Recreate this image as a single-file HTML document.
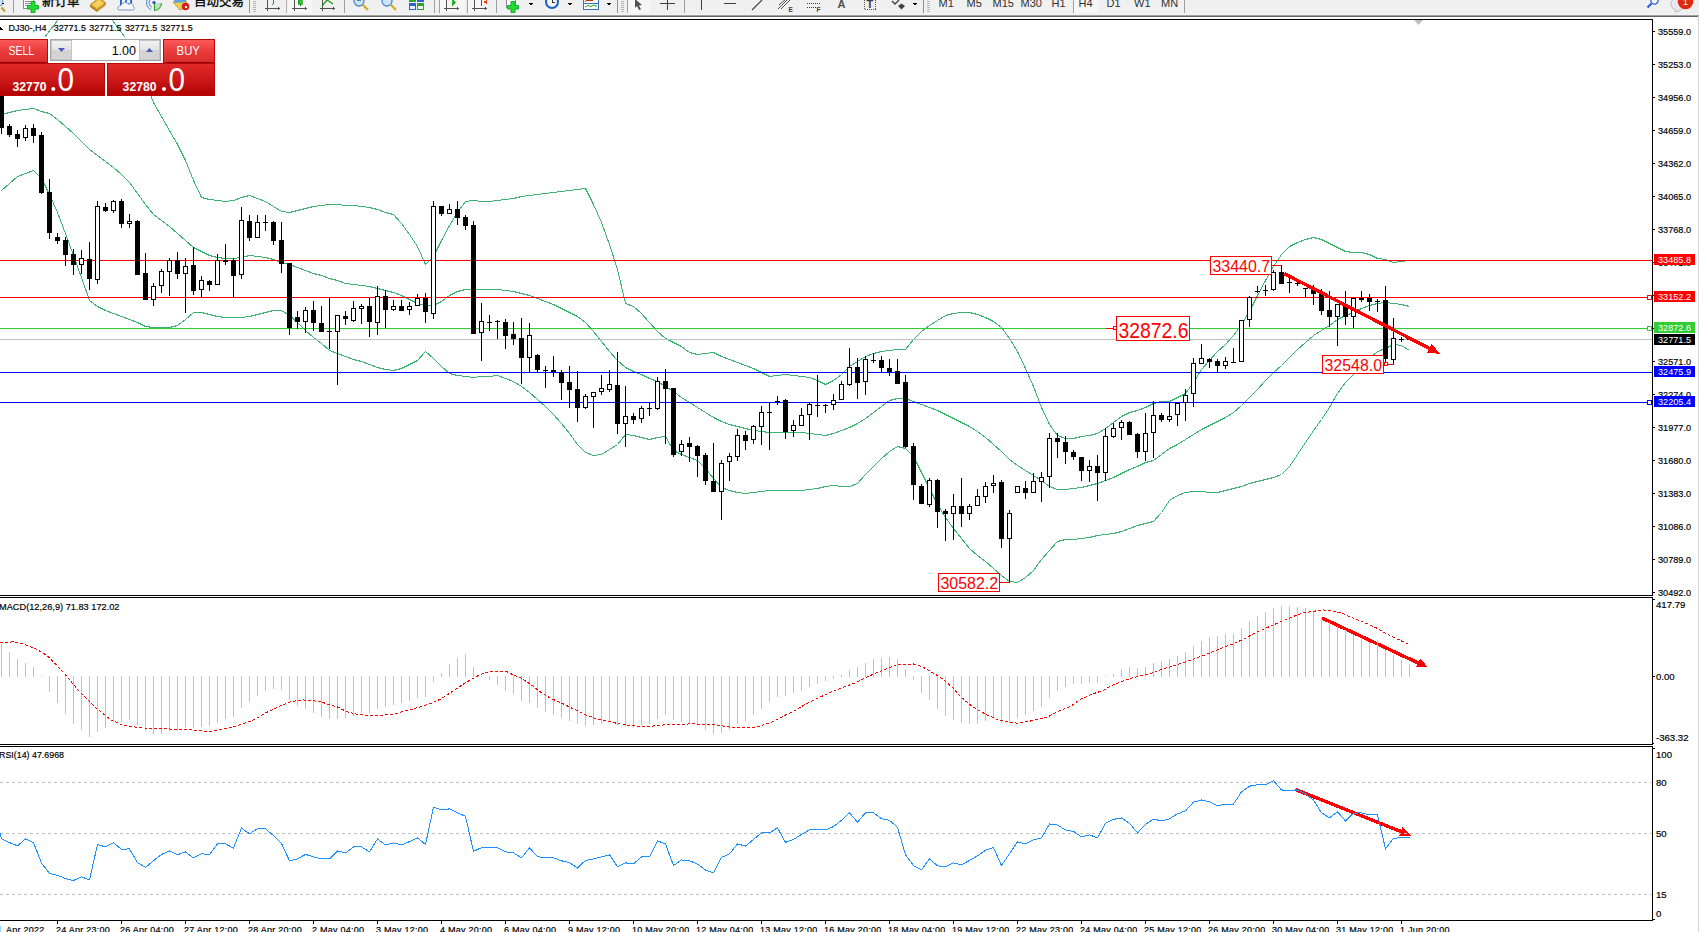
<!DOCTYPE html>
<html><head><meta charset="utf-8"><style>
html,body{margin:0;padding:0;background:#fff;}
body{width:1699px;height:932px;overflow:hidden;position:relative;font-family:"Liberation Sans","Noto Sans CJK SC",sans-serif;}
svg{position:absolute;left:0;top:0;}
svg text{font-family:"Liberation Sans","Noto Sans CJK SC",sans-serif;}
svg text.k{stroke:#000;stroke-width:0.18px;}
#pn div{position:absolute;box-sizing:border-box;}
.btn{background:linear-gradient(#f85454,#e23434 50%,#d42828);border:1px solid #b00000;}
.btn span{position:absolute;top:4px;color:#fff;font-size:13px;line-height:14px;}
.uline{height:1px;background:#8a0000;}
.spin{border:1px solid #a0a0a8;background:#fff;}
.sb{position:absolute;top:1px;width:20px;height:18px;background:linear-gradient(#f0f0f0,#e4e4e4 45%,#d0d0d0 55%,#d4d4d4);border:1px solid #c8c8c8;}
.sv{position:absolute;left:22px;top:2px;width:64px;text-align:right;font-size:12px;line-height:16px;color:#000;}
.dn,.up{position:absolute;left:6px;width:0;height:0;border-left:3.5px solid transparent;border-right:3.5px solid transparent;}
.dn{top:7px;border-top:4px solid #4a5ab8;}
.up{top:6px;border-bottom:4px solid #4a5ab8;}
.px{height:33px;background:linear-gradient(#e02a2a,#c81414 50%,#b40404);color:#fff;}
.px b{position:absolute;left:12px;top:15px;font-size:12.5px;font-weight:bold;line-height:14px;}
.px em{position:absolute;left:50px;top:12px;font-style:normal;font-weight:bold;font-size:16px;line-height:16px;}
.px s{position:absolute;left:57px;top:2px;text-decoration:none;font-family:"DejaVu Sans","Liberation Sans",sans-serif;font-size:31px;line-height:31px;font-weight:normal;}
</style></head><body>
<svg width="1699" height="932" viewBox="0 0 1699 932" shape-rendering="crispEdges">
<rect x="0" y="0" width="1699" height="14" fill="#f0f0f0"/>
<rect x="0" y="14" width="1699" height="1" fill="#f4f4f4"/>
<rect x="0" y="15" width="1699" height="1" fill="#a0a0a0"/>
<rect x="0" y="16" width="1699" height="1" fill="#646464"/>
<rect x="0" y="17" width="1699" height="2" fill="#ffffff"/>
<defs><clipPath id="cm"><rect x="0" y="20" width="1652" height="575"/></clipPath><clipPath id="cd"><rect x="0" y="598" width="1652" height="146"/></clipPath><clipPath id="cr"><rect x="0" y="747" width="1652" height="173"/></clipPath></defs>
<g clip-path="url(#cm)">
<polyline points="0.5,92.5 20.5,68.5 44.5,37.5 57.5,20.5 70.5,-4.5 90.5,-14.5 105.5,-1.5 112.5,20.5 124.5,36.5 140.5,68.5 153.5,102.5 161.5,116.5 169.5,130.5 177.5,144.5 185.5,160.5 193.5,180.5 201.5,197.5 209.5,199.5 217.5,200.5 225.5,201.5 233.5,200.5 241.5,197.5 249.5,195.5 257.5,198.5 265.5,201.5 273.5,206.5 281.5,211.5 289.5,212.5 297.5,210.5 305.5,208.5 313.5,206.5 321.5,205.5 329.5,204.5 337.5,204.5 345.5,205.5 353.5,205.5 361.5,206.5 369.5,207.5 377.5,209.5 385.5,212.5 393.5,214.5 401.5,223.5 409.5,234.5 417.5,246.5 425.5,264.5 433.5,256.5 441.5,240.5 449.5,225.5 457.5,212.5 465.5,201.5 473.5,200.5 481.5,201.5 489.5,201.5 497.5,200.5 505.5,199.5 513.5,198.5 521.5,196.5 529.5,195.5 537.5,194.5 545.5,193.5 553.5,192.5 561.5,191.5 569.5,190.5 577.5,189.5 585.5,188.5 593.5,204.5 601.5,222.5 609.5,244.5 617.5,269.5 625.5,303.5 633.5,306.5 641.5,313.5 649.5,322.5 657.5,331.5 665.5,338.5 673.5,342.5 681.5,346.5 689.5,352.5 697.5,354.5 705.5,353.5 713.5,352.5 721.5,356.5 729.5,359.5 737.5,362.5 745.5,365.5 753.5,368.5 761.5,372.5 769.5,376.5 777.5,375.5 785.5,374.5 793.5,375.5 801.5,376.5 809.5,377.5 817.5,380.5 825.5,384.5 833.5,380.5 841.5,374.5 849.5,366.5 857.5,361.5 865.5,356.5 873.5,353.5 881.5,351.5 889.5,350.5 897.5,349.5 905.5,349.5 913.5,339.5 921.5,331.5 929.5,325.5 937.5,320.5 945.5,315.5 953.5,313.5 961.5,312.5 969.5,312.5 977.5,314.5 985.5,317.5 993.5,321.5 1001.5,327.5 1009.5,338.5 1017.5,351.5 1025.5,368.5 1033.5,386.5 1041.5,407.5 1049.5,424.5 1057.5,435.5 1065.5,438.5 1073.5,438.5 1081.5,436.5 1089.5,435.5 1097.5,433.5 1105.5,428.5 1113.5,422.5 1121.5,416.5 1129.5,412.5 1137.5,410.5 1145.5,407.5 1153.5,403.5 1161.5,401.5 1169.5,401.5 1177.5,397.5 1185.5,393.5 1193.5,382.5 1201.5,369.5 1209.5,360.5 1217.5,351.5 1225.5,344.5 1233.5,335.5 1241.5,324.5 1249.5,311.5 1257.5,295.5 1265.5,280.5 1273.5,266.5 1281.5,254.5 1289.5,246.5 1297.5,242.5 1305.5,239.5 1313.5,237.5 1321.5,239.5 1329.5,243.5 1337.5,247.5 1345.5,251.5 1353.5,252.5 1361.5,252.5 1369.5,254.5 1377.5,258.5 1385.5,259.5 1393.5,262.5 1401.5,261.5 1409.5,260.5" fill="none" stroke="#3cb371" stroke-width="1" shape-rendering="crispEdges"/>
<polyline points="1.5,114.5 9.5,112.5 17.5,110.5 25.5,109.5 33.5,108.5 41.5,111.5 49.5,113.5 57.5,119.5 65.5,126.5 73.5,133.5 81.5,141.5 89.5,149.5 97.5,155.5 105.5,161.5 113.5,167.5 121.5,174.5 129.5,182.5 137.5,193.5 145.5,204.5 153.5,214.5 161.5,220.5 169.5,226.5 177.5,233.5 185.5,240.5 193.5,247.5 201.5,251.5 209.5,255.5 217.5,257.5 225.5,258.5 233.5,258.5 241.5,257.5 249.5,255.5 257.5,256.5 265.5,257.5 273.5,259.5 281.5,262.5 289.5,264.5 297.5,267.5 305.5,270.5 313.5,273.5 321.5,275.5 329.5,278.5 337.5,280.5 345.5,283.5 353.5,284.5 361.5,285.5 369.5,286.5 377.5,288.5 385.5,290.5 393.5,292.5 401.5,295.5 409.5,299.5 417.5,303.5 425.5,305.5 433.5,305.5 441.5,301.5 449.5,295.5 457.5,291.5 465.5,289.5 473.5,289.5 481.5,289.5 489.5,289.5 497.5,289.5 505.5,290.5 513.5,291.5 521.5,293.5 529.5,295.5 537.5,298.5 545.5,301.5 553.5,304.5 561.5,308.5 569.5,312.5 577.5,316.5 585.5,322.5 593.5,331.5 601.5,341.5 609.5,351.5 617.5,360.5 625.5,367.5 633.5,371.5 641.5,374.5 649.5,378.5 657.5,381.5 665.5,386.5 673.5,391.5 681.5,397.5 689.5,402.5 697.5,407.5 705.5,412.5 713.5,417.5 721.5,421.5 729.5,424.5 737.5,426.5 745.5,428.5 753.5,430.5 761.5,431.5 769.5,432.5 777.5,432.5 785.5,432.5 793.5,432.5 801.5,432.5 809.5,433.5 817.5,434.5 825.5,435.5 833.5,433.5 841.5,430.5 849.5,427.5 857.5,423.5 865.5,418.5 873.5,412.5 881.5,406.5 889.5,400.5 897.5,398.5 905.5,398.5 913.5,401.5 921.5,404.5 929.5,407.5 937.5,410.5 945.5,414.5 953.5,418.5 961.5,422.5 969.5,426.5 977.5,431.5 985.5,437.5 993.5,444.5 1001.5,451.5 1009.5,459.5 1017.5,465.5 1025.5,470.5 1033.5,475.5 1041.5,480.5 1049.5,486.5 1057.5,489.5 1065.5,489.5 1073.5,488.5 1081.5,487.5 1089.5,485.5 1097.5,483.5 1105.5,480.5 1113.5,477.5 1121.5,473.5 1129.5,469.5 1137.5,466.5 1145.5,462.5 1153.5,460.5 1161.5,454.5 1169.5,448.5 1177.5,444.5 1185.5,439.5 1193.5,434.5 1201.5,429.5 1209.5,425.5 1217.5,421.5 1225.5,417.5 1233.5,412.5 1241.5,405.5 1249.5,397.5 1257.5,389.5 1265.5,380.5 1273.5,372.5 1281.5,365.5 1289.5,357.5 1297.5,349.5 1305.5,342.5 1313.5,335.5 1321.5,330.5 1329.5,325.5 1337.5,319.5 1345.5,315.5 1353.5,312.5 1361.5,308.5 1369.5,305.5 1377.5,303.5 1385.5,302.5 1393.5,303.5 1401.5,304.5 1409.5,306.5" fill="none" stroke="#3cb371" stroke-width="1" shape-rendering="crispEdges"/>
<polyline points="1.5,190.5 9.5,183.5 17.5,176.5 25.5,173.5 33.5,170.5 41.5,178.5 49.5,194.5 57.5,212.5 65.5,233.5 73.5,255.5 81.5,277.5 89.5,300.5 97.5,306.5 105.5,310.5 113.5,313.5 121.5,316.5 129.5,319.5 137.5,322.5 145.5,326.5 153.5,327.5 161.5,327.5 169.5,327.5 177.5,325.5 185.5,319.5 193.5,312.5 201.5,312.5 209.5,314.5 217.5,316.5 225.5,317.5 233.5,317.5 241.5,317.5 249.5,316.5 257.5,314.5 265.5,312.5 273.5,310.5 281.5,310.5 289.5,315.5 297.5,322.5 305.5,330.5 313.5,337.5 321.5,343.5 329.5,350.5 337.5,353.5 345.5,356.5 353.5,359.5 361.5,361.5 369.5,364.5 377.5,367.5 385.5,369.5 393.5,370.5 401.5,368.5 409.5,364.5 417.5,360.5 425.5,351.5 433.5,358.5 441.5,366.5 449.5,373.5 457.5,375.5 465.5,376.5 473.5,377.5 481.5,376.5 489.5,376.5 497.5,375.5 505.5,378.5 513.5,381.5 521.5,386.5 529.5,392.5 537.5,399.5 545.5,406.5 553.5,414.5 561.5,423.5 569.5,433.5 577.5,444.5 585.5,452.5 593.5,455.5 601.5,454.5 609.5,449.5 617.5,444.5 625.5,434.5 633.5,435.5 641.5,437.5 649.5,439.5 657.5,437.5 665.5,436.5 673.5,450.5 681.5,454.5 689.5,457.5 697.5,460.5 705.5,468.5 713.5,478.5 721.5,487.5 729.5,490.5 737.5,492.5 745.5,493.5 753.5,492.5 761.5,491.5 769.5,490.5 777.5,490.5 785.5,490.5 793.5,490.5 801.5,490.5 809.5,489.5 817.5,488.5 825.5,486.5 833.5,485.5 841.5,486.5 849.5,486.5 857.5,483.5 865.5,474.5 873.5,466.5 881.5,458.5 889.5,451.5 897.5,446.5 905.5,448.5 913.5,456.5 921.5,472.5 929.5,488.5 937.5,504.5 945.5,517.5 953.5,528.5 961.5,538.5 969.5,548.5 977.5,555.5 985.5,561.5 993.5,568.5 1001.5,575.5 1009.5,581.5 1017.5,582.5 1025.5,577.5 1033.5,570.5 1041.5,559.5 1049.5,550.5 1057.5,541.5 1065.5,539.5 1073.5,539.5 1081.5,538.5 1089.5,537.5 1097.5,535.5 1105.5,534.5 1113.5,533.5 1121.5,531.5 1129.5,528.5 1137.5,525.5 1145.5,523.5 1153.5,521.5 1161.5,512.5 1169.5,500.5 1177.5,495.5 1185.5,492.5 1193.5,491.5 1201.5,491.5 1209.5,492.5 1217.5,492.5 1225.5,490.5 1233.5,488.5 1241.5,486.5 1249.5,483.5 1257.5,481.5 1265.5,479.5 1273.5,477.5 1281.5,474.5 1289.5,466.5 1297.5,454.5 1305.5,442.5 1313.5,430.5 1321.5,419.5 1329.5,407.5 1337.5,393.5 1345.5,382.5 1353.5,374.5 1361.5,366.5 1369.5,358.5 1377.5,351.5 1385.5,348.5 1393.5,344.5 1401.5,345.5 1409.5,350.5" fill="none" stroke="#3cb371" stroke-width="1" shape-rendering="crispEdges"/>
<rect x="0" y="260" width="1652" height="1" fill="#ff0000" />
<rect x="0" y="297" width="1652" height="1" fill="#ff0000" />
<rect x="0" y="328" width="1652" height="1" fill="#32cd32" />
<rect x="0" y="339" width="1652" height="1" fill="#c0c0c0" />
<rect x="0" y="372" width="1652" height="1" fill="#0000ff" />
<rect x="0" y="402" width="1652" height="1" fill="#0000ff" />
<rect x="1" y="88" width="1" height="46" fill="#000" />
<rect x="-1" y="88" width="5" height="40" fill="#000" />
<rect x="9" y="124" width="1" height="13" fill="#000" />
<rect x="7" y="126" width="5" height="9" fill="#000" />
<rect x="17" y="130" width="1" height="17" fill="#000" />
<rect x="15" y="134" width="5" height="5" fill="#000" />
<rect x="25" y="125" width="1" height="16" fill="#000" />
<rect x="23" y="128" width="5" height="10" fill="#000" />
<rect x="24" y="129" width="3" height="8" fill="#fff" />
<rect x="33" y="124" width="1" height="19" fill="#000" />
<rect x="31" y="128" width="5" height="8" fill="#000" />
<rect x="41" y="132" width="1" height="62" fill="#000" />
<rect x="39" y="135" width="5" height="58" fill="#000" />
<rect x="49" y="179" width="1" height="60" fill="#000" />
<rect x="47" y="192" width="5" height="41" fill="#000" />
<rect x="57" y="233" width="1" height="11" fill="#000" />
<rect x="55" y="237" width="5" height="4" fill="#000" />
<rect x="65" y="237" width="1" height="29" fill="#000" />
<rect x="63" y="240" width="5" height="15" fill="#000" />
<rect x="73" y="249" width="1" height="26" fill="#000" />
<rect x="71" y="254" width="5" height="11" fill="#000" />
<rect x="81" y="250" width="1" height="24" fill="#000" />
<rect x="79" y="258" width="5" height="7" fill="#000" />
<rect x="80" y="259" width="3" height="5" fill="#fff" />
<rect x="89" y="242" width="1" height="48" fill="#000" />
<rect x="87" y="259" width="5" height="20" fill="#000" />
<rect x="97" y="201" width="1" height="83" fill="#000" />
<rect x="95" y="206" width="5" height="74" fill="#000" />
<rect x="96" y="207" width="3" height="72" fill="#fff" />
<rect x="105" y="203" width="1" height="9" fill="#000" />
<rect x="103" y="207" width="5" height="4" fill="#000" />
<rect x="113" y="200" width="1" height="13" fill="#000" />
<rect x="111" y="201" width="5" height="10" fill="#000" />
<rect x="112" y="202" width="3" height="8" fill="#fff" />
<rect x="121" y="199" width="1" height="29" fill="#000" />
<rect x="119" y="201" width="5" height="23" fill="#000" />
<rect x="129" y="214" width="1" height="14" fill="#000" />
<rect x="127" y="221" width="5" height="3" fill="#000" />
<rect x="128" y="222" width="3" height="1" fill="#fff" />
<rect x="137" y="220" width="1" height="55" fill="#000" />
<rect x="135" y="221" width="5" height="54" fill="#000" />
<rect x="145" y="253" width="1" height="47" fill="#000" />
<rect x="143" y="273" width="5" height="27" fill="#000" />
<rect x="153" y="283" width="1" height="23" fill="#000" />
<rect x="151" y="286" width="5" height="14" fill="#000" />
<rect x="152" y="287" width="3" height="12" fill="#fff" />
<rect x="161" y="269" width="1" height="24" fill="#000" />
<rect x="159" y="271" width="5" height="15" fill="#000" />
<rect x="160" y="272" width="3" height="13" fill="#fff" />
<rect x="169" y="258" width="1" height="38" fill="#000" />
<rect x="167" y="260" width="5" height="12" fill="#000" />
<rect x="168" y="261" width="3" height="10" fill="#fff" />
<rect x="177" y="252" width="1" height="27" fill="#000" />
<rect x="175" y="260" width="5" height="14" fill="#000" />
<rect x="185" y="258" width="1" height="55" fill="#000" />
<rect x="183" y="266" width="5" height="8" fill="#000" />
<rect x="184" y="267" width="3" height="6" fill="#fff" />
<rect x="193" y="247" width="1" height="48" fill="#000" />
<rect x="191" y="265" width="5" height="26" fill="#000" />
<rect x="201" y="276" width="1" height="21" fill="#000" />
<rect x="199" y="280" width="5" height="10" fill="#000" />
<rect x="200" y="281" width="3" height="8" fill="#fff" />
<rect x="209" y="280" width="1" height="11" fill="#000" />
<rect x="207" y="281" width="5" height="4" fill="#000" />
<rect x="217" y="254" width="1" height="31" fill="#000" />
<rect x="215" y="260" width="5" height="25" fill="#000" />
<rect x="216" y="261" width="3" height="23" fill="#fff" />
<rect x="225" y="244" width="1" height="21" fill="#000" />
<rect x="223" y="260" width="5" height="2" fill="#000" />
<rect x="233" y="258" width="1" height="40" fill="#000" />
<rect x="231" y="260" width="5" height="16" fill="#000" />
<rect x="241" y="207" width="1" height="72" fill="#000" />
<rect x="239" y="220" width="5" height="55" fill="#000" />
<rect x="240" y="221" width="3" height="53" fill="#fff" />
<rect x="249" y="215" width="1" height="26" fill="#000" />
<rect x="247" y="221" width="5" height="17" fill="#000" />
<rect x="257" y="215" width="1" height="23" fill="#000" />
<rect x="255" y="222" width="5" height="16" fill="#000" />
<rect x="256" y="223" width="3" height="14" fill="#fff" />
<rect x="265" y="215" width="1" height="16" fill="#000" />
<rect x="263" y="222" width="5" height="1" fill="#000" />
<rect x="273" y="221" width="1" height="24" fill="#000" />
<rect x="271" y="222" width="5" height="19" fill="#000" />
<rect x="281" y="222" width="1" height="51" fill="#000" />
<rect x="279" y="240" width="5" height="24" fill="#000" />
<rect x="289" y="263" width="1" height="72" fill="#000" />
<rect x="287" y="263" width="5" height="65" fill="#000" />
<rect x="297" y="311" width="1" height="18" fill="#000" />
<rect x="295" y="317" width="5" height="5" fill="#000" />
<rect x="305" y="307" width="1" height="26" fill="#000" />
<rect x="303" y="310" width="5" height="12" fill="#000" />
<rect x="304" y="311" width="3" height="10" fill="#fff" />
<rect x="313" y="301" width="1" height="30" fill="#000" />
<rect x="311" y="310" width="5" height="13" fill="#000" />
<rect x="321" y="306" width="1" height="26" fill="#000" />
<rect x="319" y="323" width="5" height="9" fill="#000" />
<rect x="329" y="298" width="1" height="51" fill="#000" />
<rect x="327" y="331" width="5" height="1" fill="#000" />
<rect x="337" y="315" width="1" height="70" fill="#000" />
<rect x="335" y="315" width="5" height="17" fill="#000" />
<rect x="336" y="316" width="3" height="15" fill="#fff" />
<rect x="345" y="311" width="1" height="14" fill="#000" />
<rect x="343" y="316" width="5" height="3" fill="#000" />
<rect x="353" y="301" width="1" height="21" fill="#000" />
<rect x="351" y="308" width="5" height="13" fill="#000" />
<rect x="352" y="309" width="3" height="11" fill="#fff" />
<rect x="361" y="304" width="1" height="20" fill="#000" />
<rect x="359" y="306" width="5" height="3" fill="#000" />
<rect x="360" y="307" width="3" height="1" fill="#fff" />
<rect x="369" y="298" width="1" height="39" fill="#000" />
<rect x="367" y="306" width="5" height="16" fill="#000" />
<rect x="377" y="286" width="1" height="49" fill="#000" />
<rect x="375" y="296" width="5" height="27" fill="#000" />
<rect x="376" y="297" width="3" height="25" fill="#fff" />
<rect x="385" y="290" width="1" height="38" fill="#000" />
<rect x="383" y="296" width="5" height="14" fill="#000" />
<rect x="393" y="300" width="1" height="11" fill="#000" />
<rect x="391" y="306" width="5" height="4" fill="#000" />
<rect x="392" y="307" width="3" height="2" fill="#fff" />
<rect x="401" y="300" width="1" height="11" fill="#000" />
<rect x="399" y="306" width="5" height="5" fill="#000" />
<rect x="409" y="302" width="1" height="13" fill="#000" />
<rect x="407" y="306" width="5" height="4" fill="#000" />
<rect x="408" y="307" width="3" height="2" fill="#fff" />
<rect x="417" y="294" width="1" height="12" fill="#000" />
<rect x="415" y="298" width="5" height="8" fill="#000" />
<rect x="416" y="299" width="3" height="6" fill="#fff" />
<rect x="425" y="293" width="1" height="30" fill="#000" />
<rect x="423" y="298" width="5" height="14" fill="#000" />
<rect x="433" y="201" width="1" height="118" fill="#000" />
<rect x="431" y="206" width="5" height="108" fill="#000" />
<rect x="432" y="207" width="3" height="106" fill="#fff" />
<rect x="441" y="206" width="1" height="10" fill="#000" />
<rect x="439" y="206" width="5" height="8" fill="#000" />
<rect x="449" y="204" width="1" height="10" fill="#000" />
<rect x="447" y="209" width="5" height="5" fill="#000" />
<rect x="448" y="210" width="3" height="3" fill="#fff" />
<rect x="457" y="201" width="1" height="24" fill="#000" />
<rect x="455" y="209" width="5" height="9" fill="#000" />
<rect x="465" y="215" width="1" height="15" fill="#000" />
<rect x="463" y="217" width="5" height="9" fill="#000" />
<rect x="473" y="221" width="1" height="113" fill="#000" />
<rect x="471" y="225" width="5" height="109" fill="#000" />
<rect x="481" y="303" width="1" height="58" fill="#000" />
<rect x="479" y="321" width="5" height="12" fill="#000" />
<rect x="480" y="322" width="3" height="10" fill="#fff" />
<rect x="489" y="315" width="1" height="16" fill="#000" />
<rect x="487" y="322" width="5" height="1" fill="#000" />
<rect x="497" y="320" width="1" height="19" fill="#000" />
<rect x="495" y="321" width="5" height="1" fill="#000" />
<rect x="505" y="319" width="1" height="30" fill="#000" />
<rect x="503" y="322" width="5" height="14" fill="#000" />
<rect x="513" y="322" width="1" height="23" fill="#000" />
<rect x="511" y="334" width="5" height="5" fill="#000" />
<rect x="521" y="318" width="1" height="66" fill="#000" />
<rect x="519" y="338" width="5" height="20" fill="#000" />
<rect x="529" y="323" width="1" height="49" fill="#000" />
<rect x="527" y="335" width="5" height="23" fill="#000" />
<rect x="528" y="336" width="3" height="21" fill="#fff" />
<rect x="537" y="354" width="1" height="18" fill="#000" />
<rect x="535" y="355" width="5" height="15" fill="#000" />
<rect x="545" y="366" width="1" height="22" fill="#000" />
<rect x="543" y="370" width="5" height="1" fill="#000" />
<rect x="553" y="356" width="1" height="21" fill="#000" />
<rect x="551" y="370" width="5" height="2" fill="#000" />
<rect x="561" y="370" width="1" height="30" fill="#000" />
<rect x="559" y="372" width="5" height="11" fill="#000" />
<rect x="569" y="366" width="1" height="42" fill="#000" />
<rect x="567" y="382" width="5" height="8" fill="#000" />
<rect x="577" y="371" width="1" height="51" fill="#000" />
<rect x="575" y="389" width="5" height="19" fill="#000" />
<rect x="585" y="394" width="1" height="15" fill="#000" />
<rect x="583" y="396" width="5" height="12" fill="#000" />
<rect x="584" y="397" width="3" height="10" fill="#fff" />
<rect x="593" y="392" width="1" height="36" fill="#000" />
<rect x="591" y="392" width="5" height="5" fill="#000" />
<rect x="592" y="393" width="3" height="3" fill="#fff" />
<rect x="601" y="375" width="1" height="20" fill="#000" />
<rect x="599" y="388" width="5" height="4" fill="#000" />
<rect x="600" y="389" width="3" height="2" fill="#fff" />
<rect x="609" y="370" width="1" height="22" fill="#000" />
<rect x="607" y="384" width="5" height="6" fill="#000" />
<rect x="608" y="385" width="3" height="4" fill="#fff" />
<rect x="617" y="352" width="1" height="82" fill="#000" />
<rect x="615" y="385" width="5" height="39" fill="#000" />
<rect x="625" y="386" width="1" height="61" fill="#000" />
<rect x="623" y="416" width="5" height="8" fill="#000" />
<rect x="624" y="417" width="3" height="6" fill="#fff" />
<rect x="633" y="413" width="1" height="11" fill="#000" />
<rect x="631" y="416" width="5" height="4" fill="#000" />
<rect x="641" y="406" width="1" height="17" fill="#000" />
<rect x="639" y="408" width="5" height="11" fill="#000" />
<rect x="640" y="409" width="3" height="9" fill="#fff" />
<rect x="649" y="402" width="1" height="14" fill="#000" />
<rect x="647" y="408" width="5" height="1" fill="#000" />
<rect x="657" y="377" width="1" height="33" fill="#000" />
<rect x="655" y="381" width="5" height="28" fill="#000" />
<rect x="656" y="382" width="3" height="26" fill="#fff" />
<rect x="665" y="369" width="1" height="75" fill="#000" />
<rect x="663" y="381" width="5" height="8" fill="#000" />
<rect x="673" y="388" width="1" height="69" fill="#000" />
<rect x="671" y="388" width="5" height="67" fill="#000" />
<rect x="681" y="440" width="1" height="16" fill="#000" />
<rect x="679" y="444" width="5" height="8" fill="#000" />
<rect x="680" y="445" width="3" height="6" fill="#fff" />
<rect x="689" y="437" width="1" height="25" fill="#000" />
<rect x="687" y="443" width="5" height="4" fill="#000" />
<rect x="697" y="445" width="1" height="32" fill="#000" />
<rect x="695" y="446" width="5" height="10" fill="#000" />
<rect x="705" y="453" width="1" height="32" fill="#000" />
<rect x="703" y="455" width="5" height="26" fill="#000" />
<rect x="713" y="443" width="1" height="49" fill="#000" />
<rect x="711" y="481" width="5" height="11" fill="#000" />
<rect x="721" y="460" width="1" height="60" fill="#000" />
<rect x="719" y="463" width="5" height="29" fill="#000" />
<rect x="720" y="464" width="3" height="27" fill="#fff" />
<rect x="729" y="453" width="1" height="28" fill="#000" />
<rect x="727" y="456" width="5" height="6" fill="#000" />
<rect x="728" y="457" width="3" height="4" fill="#fff" />
<rect x="737" y="429" width="1" height="32" fill="#000" />
<rect x="735" y="435" width="5" height="22" fill="#000" />
<rect x="736" y="436" width="3" height="20" fill="#fff" />
<rect x="745" y="431" width="1" height="19" fill="#000" />
<rect x="743" y="435" width="5" height="6" fill="#000" />
<rect x="753" y="425" width="1" height="19" fill="#000" />
<rect x="751" y="426" width="5" height="14" fill="#000" />
<rect x="752" y="427" width="3" height="12" fill="#fff" />
<rect x="761" y="406" width="1" height="39" fill="#000" />
<rect x="759" y="412" width="5" height="15" fill="#000" />
<rect x="760" y="413" width="3" height="13" fill="#fff" />
<rect x="769" y="403" width="1" height="47" fill="#000" />
<rect x="767" y="412" width="5" height="1" fill="#000" />
<rect x="777" y="396" width="1" height="9" fill="#000" />
<rect x="775" y="401" width="5" height="1" fill="#000" />
<rect x="785" y="399" width="1" height="40" fill="#000" />
<rect x="783" y="400" width="5" height="32" fill="#000" />
<rect x="793" y="420" width="1" height="17" fill="#000" />
<rect x="791" y="425" width="5" height="6" fill="#000" />
<rect x="792" y="426" width="3" height="4" fill="#fff" />
<rect x="801" y="408" width="1" height="18" fill="#000" />
<rect x="799" y="415" width="5" height="11" fill="#000" />
<rect x="800" y="416" width="3" height="9" fill="#fff" />
<rect x="809" y="402" width="1" height="38" fill="#000" />
<rect x="807" y="404" width="5" height="11" fill="#000" />
<rect x="808" y="405" width="3" height="9" fill="#fff" />
<rect x="817" y="375" width="1" height="42" fill="#000" />
<rect x="815" y="405" width="5" height="1" fill="#000" />
<rect x="825" y="404" width="1" height="9" fill="#000" />
<rect x="823" y="405" width="5" height="1" fill="#000" />
<rect x="833" y="394" width="1" height="16" fill="#000" />
<rect x="831" y="400" width="5" height="5" fill="#000" />
<rect x="832" y="401" width="3" height="3" fill="#fff" />
<rect x="841" y="381" width="1" height="19" fill="#000" />
<rect x="839" y="384" width="5" height="16" fill="#000" />
<rect x="840" y="385" width="3" height="14" fill="#fff" />
<rect x="849" y="348" width="1" height="38" fill="#000" />
<rect x="847" y="367" width="5" height="18" fill="#000" />
<rect x="848" y="368" width="3" height="16" fill="#fff" />
<rect x="857" y="358" width="1" height="41" fill="#000" />
<rect x="855" y="367" width="5" height="16" fill="#000" />
<rect x="865" y="356" width="1" height="39" fill="#000" />
<rect x="863" y="359" width="5" height="23" fill="#000" />
<rect x="864" y="360" width="3" height="21" fill="#fff" />
<rect x="873" y="353" width="1" height="10" fill="#000" />
<rect x="871" y="360" width="5" height="1" fill="#000" />
<rect x="881" y="356" width="1" height="16" fill="#000" />
<rect x="879" y="360" width="5" height="8" fill="#000" />
<rect x="889" y="359" width="1" height="17" fill="#000" />
<rect x="887" y="368" width="5" height="4" fill="#000" />
<rect x="897" y="359" width="1" height="25" fill="#000" />
<rect x="895" y="371" width="5" height="13" fill="#000" />
<rect x="905" y="375" width="1" height="73" fill="#000" />
<rect x="903" y="382" width="5" height="65" fill="#000" />
<rect x="913" y="443" width="1" height="57" fill="#000" />
<rect x="911" y="446" width="5" height="39" fill="#000" />
<rect x="921" y="484" width="1" height="20" fill="#000" />
<rect x="919" y="486" width="5" height="18" fill="#000" />
<rect x="929" y="478" width="1" height="29" fill="#000" />
<rect x="927" y="480" width="5" height="25" fill="#000" />
<rect x="928" y="481" width="3" height="23" fill="#fff" />
<rect x="937" y="479" width="1" height="49" fill="#000" />
<rect x="935" y="480" width="5" height="32" fill="#000" />
<rect x="945" y="509" width="1" height="32" fill="#000" />
<rect x="943" y="511" width="5" height="3" fill="#000" />
<rect x="953" y="494" width="1" height="46" fill="#000" />
<rect x="951" y="506" width="5" height="8" fill="#000" />
<rect x="952" y="507" width="3" height="6" fill="#fff" />
<rect x="961" y="478" width="1" height="49" fill="#000" />
<rect x="959" y="506" width="5" height="8" fill="#000" />
<rect x="969" y="504" width="1" height="16" fill="#000" />
<rect x="967" y="506" width="5" height="8" fill="#000" />
<rect x="968" y="507" width="3" height="6" fill="#fff" />
<rect x="977" y="489" width="1" height="17" fill="#000" />
<rect x="975" y="496" width="5" height="10" fill="#000" />
<rect x="976" y="497" width="3" height="8" fill="#fff" />
<rect x="985" y="482" width="1" height="21" fill="#000" />
<rect x="983" y="486" width="5" height="11" fill="#000" />
<rect x="984" y="487" width="3" height="9" fill="#fff" />
<rect x="993" y="475" width="1" height="18" fill="#000" />
<rect x="991" y="483" width="5" height="3" fill="#000" />
<rect x="992" y="484" width="3" height="1" fill="#fff" />
<rect x="1001" y="480" width="1" height="68" fill="#000" />
<rect x="999" y="482" width="5" height="57" fill="#000" />
<rect x="1009" y="510" width="1" height="73" fill="#000" />
<rect x="1007" y="513" width="5" height="26" fill="#000" />
<rect x="1008" y="514" width="3" height="24" fill="#fff" />
<rect x="1017" y="486" width="1" height="7" fill="#000" />
<rect x="1015" y="486" width="5" height="7" fill="#000" />
<rect x="1016" y="487" width="3" height="5" fill="#fff" />
<rect x="1025" y="481" width="1" height="18" fill="#000" />
<rect x="1023" y="488" width="5" height="5" fill="#000" />
<rect x="1033" y="473" width="1" height="20" fill="#000" />
<rect x="1031" y="481" width="5" height="12" fill="#000" />
<rect x="1032" y="482" width="3" height="10" fill="#fff" />
<rect x="1041" y="472" width="1" height="30" fill="#000" />
<rect x="1039" y="477" width="5" height="5" fill="#000" />
<rect x="1040" y="478" width="3" height="3" fill="#fff" />
<rect x="1049" y="433" width="1" height="55" fill="#000" />
<rect x="1047" y="438" width="5" height="39" fill="#000" />
<rect x="1048" y="439" width="3" height="37" fill="#fff" />
<rect x="1057" y="433" width="1" height="25" fill="#000" />
<rect x="1055" y="438" width="5" height="4" fill="#000" />
<rect x="1065" y="436" width="1" height="28" fill="#000" />
<rect x="1063" y="442" width="5" height="10" fill="#000" />
<rect x="1073" y="450" width="1" height="10" fill="#000" />
<rect x="1071" y="452" width="5" height="5" fill="#000" />
<rect x="1081" y="457" width="1" height="24" fill="#000" />
<rect x="1079" y="457" width="5" height="14" fill="#000" />
<rect x="1089" y="460" width="1" height="22" fill="#000" />
<rect x="1087" y="466" width="5" height="5" fill="#000" />
<rect x="1088" y="467" width="3" height="3" fill="#fff" />
<rect x="1097" y="455" width="1" height="46" fill="#000" />
<rect x="1095" y="466" width="5" height="7" fill="#000" />
<rect x="1105" y="428" width="1" height="53" fill="#000" />
<rect x="1103" y="436" width="5" height="37" fill="#000" />
<rect x="1104" y="437" width="3" height="35" fill="#fff" />
<rect x="1113" y="423" width="1" height="15" fill="#000" />
<rect x="1111" y="428" width="5" height="9" fill="#000" />
<rect x="1112" y="429" width="3" height="7" fill="#fff" />
<rect x="1121" y="420" width="1" height="20" fill="#000" />
<rect x="1119" y="422" width="5" height="6" fill="#000" />
<rect x="1120" y="423" width="3" height="4" fill="#fff" />
<rect x="1129" y="421" width="1" height="14" fill="#000" />
<rect x="1127" y="422" width="5" height="13" fill="#000" />
<rect x="1137" y="433" width="1" height="25" fill="#000" />
<rect x="1135" y="434" width="5" height="18" fill="#000" />
<rect x="1145" y="413" width="1" height="48" fill="#000" />
<rect x="1143" y="433" width="5" height="19" fill="#000" />
<rect x="1144" y="434" width="3" height="17" fill="#fff" />
<rect x="1153" y="401" width="1" height="57" fill="#000" />
<rect x="1151" y="415" width="5" height="18" fill="#000" />
<rect x="1152" y="416" width="3" height="16" fill="#fff" />
<rect x="1161" y="413" width="1" height="9" fill="#000" />
<rect x="1159" y="415" width="5" height="5" fill="#000" />
<rect x="1169" y="402" width="1" height="20" fill="#000" />
<rect x="1167" y="416" width="5" height="4" fill="#000" />
<rect x="1168" y="417" width="3" height="2" fill="#fff" />
<rect x="1177" y="402" width="1" height="24" fill="#000" />
<rect x="1175" y="403" width="5" height="12" fill="#000" />
<rect x="1176" y="404" width="3" height="10" fill="#fff" />
<rect x="1185" y="389" width="1" height="32" fill="#000" />
<rect x="1183" y="395" width="5" height="8" fill="#000" />
<rect x="1184" y="396" width="3" height="6" fill="#fff" />
<rect x="1193" y="358" width="1" height="49" fill="#000" />
<rect x="1191" y="363" width="5" height="31" fill="#000" />
<rect x="1192" y="364" width="3" height="29" fill="#fff" />
<rect x="1201" y="344" width="1" height="20" fill="#000" />
<rect x="1199" y="358" width="5" height="6" fill="#000" />
<rect x="1200" y="359" width="3" height="4" fill="#fff" />
<rect x="1209" y="358" width="1" height="10" fill="#000" />
<rect x="1207" y="359" width="5" height="3" fill="#000" />
<rect x="1217" y="359" width="1" height="13" fill="#000" />
<rect x="1215" y="361" width="5" height="5" fill="#000" />
<rect x="1225" y="357" width="1" height="12" fill="#000" />
<rect x="1223" y="361" width="5" height="5" fill="#000" />
<rect x="1224" y="362" width="3" height="3" fill="#fff" />
<rect x="1233" y="348" width="1" height="14" fill="#000" />
<rect x="1231" y="362" width="5" height="1" fill="#000" />
<rect x="1241" y="320" width="1" height="42" fill="#000" />
<rect x="1239" y="320" width="5" height="42" fill="#000" />
<rect x="1240" y="321" width="3" height="40" fill="#fff" />
<rect x="1249" y="296" width="1" height="31" fill="#000" />
<rect x="1247" y="297" width="5" height="23" fill="#000" />
<rect x="1248" y="298" width="3" height="21" fill="#fff" />
<rect x="1257" y="286" width="1" height="7" fill="#000" />
<rect x="1255" y="291" width="5" height="1" fill="#000" />
<rect x="1265" y="285" width="1" height="11" fill="#000" />
<rect x="1263" y="290" width="5" height="1" fill="#000" />
<rect x="1273" y="270" width="1" height="21" fill="#000" />
<rect x="1271" y="272" width="5" height="18" fill="#000" />
<rect x="1272" y="273" width="3" height="16" fill="#fff" />
<rect x="1281" y="265" width="1" height="19" fill="#000" />
<rect x="1279" y="272" width="5" height="12" fill="#000" />
<rect x="1289" y="278" width="1" height="15" fill="#000" />
<rect x="1287" y="282" width="5" height="1" fill="#000" />
<rect x="1297" y="282" width="1" height="4" fill="#000" />
<rect x="1295" y="283" width="5" height="1" fill="#000" />
<rect x="1305" y="288" width="1" height="10" fill="#000" />
<rect x="1303" y="288" width="5" height="1" fill="#000" />
<rect x="1313" y="285" width="1" height="20" fill="#000" />
<rect x="1311" y="288" width="5" height="6" fill="#000" />
<rect x="1321" y="289" width="1" height="26" fill="#000" />
<rect x="1319" y="294" width="5" height="17" fill="#000" />
<rect x="1329" y="291" width="1" height="36" fill="#000" />
<rect x="1327" y="310" width="5" height="7" fill="#000" />
<rect x="1337" y="304" width="1" height="42" fill="#000" />
<rect x="1335" y="304" width="5" height="13" fill="#000" />
<rect x="1336" y="305" width="3" height="11" fill="#fff" />
<rect x="1345" y="291" width="1" height="34" fill="#000" />
<rect x="1343" y="305" width="5" height="12" fill="#000" />
<rect x="1353" y="298" width="1" height="30" fill="#000" />
<rect x="1351" y="298" width="5" height="19" fill="#000" />
<rect x="1352" y="299" width="3" height="17" fill="#fff" />
<rect x="1361" y="291" width="1" height="11" fill="#000" />
<rect x="1359" y="298" width="5" height="2" fill="#000" />
<rect x="1369" y="294" width="1" height="17" fill="#000" />
<rect x="1367" y="298" width="5" height="4" fill="#000" />
<rect x="1377" y="299" width="1" height="13" fill="#000" />
<rect x="1375" y="301" width="5" height="1" fill="#000" />
<rect x="1385" y="286" width="1" height="76" fill="#000" />
<rect x="1383" y="300" width="5" height="59" fill="#000" />
<rect x="1393" y="318" width="1" height="46" fill="#000" />
<rect x="1391" y="338" width="5" height="22" fill="#000" />
<rect x="1392" y="339" width="3" height="20" fill="#fff" />
<rect x="1401" y="337" width="1" height="5" fill="#000" />
<rect x="1399" y="339" width="5" height="1" fill="#000" />
<rect x="1409" y="338" width="1" height="2" fill="#000" />
<rect x="1407" y="339" width="5" height="1" fill="#000" />
</g>
<rect x="1647.5" y="295.5" width="4" height="4" fill="#fff" stroke="#ff0000" stroke-width="1"/>
<rect x="1647.5" y="326.5" width="4" height="4" fill="#fff" stroke="#32cd32" stroke-width="1"/>
<rect x="1647.5" y="400.5" width="4" height="4" fill="#fff" stroke="#0000ff" stroke-width="1"/>
<rect x="1210.5" y="256.5" width="61" height="18" fill="#fff" stroke="#ff0000" stroke-width="1"/>
<text x="1212.5" y="271.5" font-size="16" fill="#ff0000" textLength="57.5" lengthAdjust="spacingAndGlyphs">33440.7</text>
<rect x="1272" y="265" width="9" height="1" fill="#ff0000" />
<rect x="1116.5" y="316.5" width="73" height="24" fill="#fff" stroke="#ff0000" stroke-width="1"/>
<text x="1118.5" y="337.5" font-size="22" fill="#ff0000" textLength="70" lengthAdjust="spacingAndGlyphs">32872.6</text>
<rect x="1106" y="328" width="7" height="1" fill="#ff0000" />
<rect x="1113.5" y="326.5" width="3" height="3" fill="#fff" stroke="#ff0000" stroke-width="1"/>
<rect x="1322.5" y="355.5" width="61" height="18" fill="#fff" stroke="#ff0000" stroke-width="1"/>
<text x="1324.5" y="370.5" font-size="16" fill="#ff0000" textLength="57.5" lengthAdjust="spacingAndGlyphs">32548.0</text>
<rect x="1384.5" y="362.5" width="3" height="3" fill="#fff" stroke="#ff0000" stroke-width="1"/>
<rect x="1388" y="364" width="6" height="1" fill="#ff0000" />
<rect x="938.5" y="573.5" width="61" height="18" fill="#fff" stroke="#ff0000" stroke-width="1"/>
<text x="940.5" y="588.5" font-size="16" fill="#ff0000" textLength="57.5" lengthAdjust="spacingAndGlyphs">30582.2</text>
<rect x="1000" y="582" width="9" height="1" fill="#ff0000" />
<line x1="1284" y1="273.5" x2="1430.2" y2="348.8" stroke="#ff0000" stroke-width="3.4" shape-rendering="crispEdges"/>
<polygon points="1440,353.8 1427.0,352.8 1431.6,343.9" fill="#ff0000" shape-rendering="crispEdges"/>
<line x1="1322" y1="618" x2="1418.9" y2="663.3" stroke="#ff0000" stroke-width="3.4" shape-rendering="crispEdges"/>
<polygon points="1428,667.5 1415.9,667.4 1420.1,658.3" fill="#ff0000" shape-rendering="crispEdges"/>
<line x1="1295.5" y1="789.5" x2="1401.7" y2="831.8" stroke="#ff0000" stroke-width="3.4" shape-rendering="crispEdges"/>
<polygon points="1411,835.5 1398.9,836.1 1402.6,826.8" fill="#ff0000" shape-rendering="crispEdges"/>
<polygon points="1414,20 1423,20 1418.5,25" fill="#c0c0c0" shape-rendering="auto"/>
<rect x="0" y="19" width="1653" height="1" fill="#000" />
<rect x="1652" y="19" width="1" height="577" fill="#000" />
<rect x="0" y="595" width="1653" height="1" fill="#000" />
<rect x="0" y="597" width="1653" height="1" fill="#000" />
<rect x="1652" y="597" width="1" height="148" fill="#000" />
<rect x="0" y="744" width="1653" height="1" fill="#000" />
<rect x="0" y="746" width="1653" height="1" fill="#000" />
<rect x="1652" y="746" width="1" height="175" fill="#000" />
<rect x="0" y="920" width="1653" height="1" fill="#000" />
<rect x="1653" y="31" width="2" height="1" fill="#000" />
<text class="k" x="1658" y="35" font-size="9.6" fill="#000" text-anchor="start" textLength="33" lengthAdjust="spacingAndGlyphs">35559.0</text>
<rect x="1653" y="64" width="2" height="1" fill="#000" />
<text class="k" x="1658" y="68" font-size="9.6" fill="#000" text-anchor="start" textLength="33" lengthAdjust="spacingAndGlyphs">35253.0</text>
<rect x="1653" y="97" width="2" height="1" fill="#000" />
<text class="k" x="1658" y="101" font-size="9.6" fill="#000" text-anchor="start" textLength="33" lengthAdjust="spacingAndGlyphs">34956.0</text>
<rect x="1653" y="130" width="2" height="1" fill="#000" />
<text class="k" x="1658" y="134" font-size="9.6" fill="#000" text-anchor="start" textLength="33" lengthAdjust="spacingAndGlyphs">34659.0</text>
<rect x="1653" y="163" width="2" height="1" fill="#000" />
<text class="k" x="1658" y="167" font-size="9.6" fill="#000" text-anchor="start" textLength="33" lengthAdjust="spacingAndGlyphs">34362.0</text>
<rect x="1653" y="196" width="2" height="1" fill="#000" />
<text class="k" x="1658" y="200" font-size="9.6" fill="#000" text-anchor="start" textLength="33" lengthAdjust="spacingAndGlyphs">34065.0</text>
<rect x="1653" y="229" width="2" height="1" fill="#000" />
<text class="k" x="1658" y="233" font-size="9.6" fill="#000" text-anchor="start" textLength="33" lengthAdjust="spacingAndGlyphs">33768.0</text>
<rect x="1653" y="262" width="2" height="1" fill="#000" />
<text class="k" x="1658" y="266" font-size="9.6" fill="#000" text-anchor="start" textLength="33" lengthAdjust="spacingAndGlyphs">33471.0</text>
<rect x="1653" y="295" width="2" height="1" fill="#000" />
<text class="k" x="1658" y="299" font-size="9.6" fill="#000" text-anchor="start" textLength="33" lengthAdjust="spacingAndGlyphs">33174.0</text>
<rect x="1653" y="328" width="2" height="1" fill="#000" />
<text class="k" x="1658" y="332" font-size="9.6" fill="#000" text-anchor="start" textLength="33" lengthAdjust="spacingAndGlyphs">32877.0</text>
<rect x="1653" y="361" width="2" height="1" fill="#000" />
<text class="k" x="1658" y="365" font-size="9.6" fill="#000" text-anchor="start" textLength="33" lengthAdjust="spacingAndGlyphs">32571.0</text>
<rect x="1653" y="394" width="2" height="1" fill="#000" />
<text class="k" x="1658" y="398" font-size="9.6" fill="#000" text-anchor="start" textLength="33" lengthAdjust="spacingAndGlyphs">32274.0</text>
<rect x="1653" y="427" width="2" height="1" fill="#000" />
<text class="k" x="1658" y="431" font-size="9.6" fill="#000" text-anchor="start" textLength="33" lengthAdjust="spacingAndGlyphs">31977.0</text>
<rect x="1653" y="460" width="2" height="1" fill="#000" />
<text class="k" x="1658" y="464" font-size="9.6" fill="#000" text-anchor="start" textLength="33" lengthAdjust="spacingAndGlyphs">31680.0</text>
<rect x="1653" y="493" width="2" height="1" fill="#000" />
<text class="k" x="1658" y="497" font-size="9.6" fill="#000" text-anchor="start" textLength="33" lengthAdjust="spacingAndGlyphs">31383.0</text>
<rect x="1653" y="526" width="2" height="1" fill="#000" />
<text class="k" x="1658" y="530" font-size="9.6" fill="#000" text-anchor="start" textLength="33" lengthAdjust="spacingAndGlyphs">31086.0</text>
<rect x="1653" y="559" width="2" height="1" fill="#000" />
<text class="k" x="1658" y="563" font-size="9.6" fill="#000" text-anchor="start" textLength="33" lengthAdjust="spacingAndGlyphs">30789.0</text>
<rect x="1653" y="592" width="2" height="1" fill="#000" />
<text class="k" x="1658" y="596" font-size="9.6" fill="#000" text-anchor="start" textLength="33" lengthAdjust="spacingAndGlyphs">30492.0</text>
<rect x="1654" y="254" width="41" height="11" fill="#ff0000" />
<text x="1658" y="263" font-size="9.6" fill="#fff" text-anchor="start" textLength="33" lengthAdjust="spacingAndGlyphs">33485.8</text>
<rect x="1654" y="291" width="41" height="11" fill="#ff0000" />
<text x="1658" y="300" font-size="9.6" fill="#fff" text-anchor="start" textLength="33" lengthAdjust="spacingAndGlyphs">33152.2</text>
<rect x="1654" y="322" width="41" height="11" fill="#32cd32" />
<text x="1658" y="331" font-size="9.6" fill="#fff" text-anchor="start" textLength="33" lengthAdjust="spacingAndGlyphs">32872.6</text>
<rect x="1654" y="334" width="41" height="11" fill="#000000" />
<text x="1658" y="343" font-size="9.6" fill="#fff" text-anchor="start" textLength="33" lengthAdjust="spacingAndGlyphs">32771.5</text>
<rect x="1654" y="366" width="41" height="11" fill="#0000ff" />
<text x="1658" y="375" font-size="9.6" fill="#fff" text-anchor="start" textLength="33" lengthAdjust="spacingAndGlyphs">32475.9</text>
<rect x="1654" y="396" width="41" height="11" fill="#0000ff" />
<text x="1658" y="405" font-size="9.6" fill="#fff" text-anchor="start" textLength="33" lengthAdjust="spacingAndGlyphs">32205.4</text>
<g clip-path="url(#cd)">
<rect x="1" y="644" width="1" height="33" fill="#c0c0c0" />
<rect x="9" y="652" width="1" height="25" fill="#c0c0c0" />
<rect x="17" y="659" width="1" height="18" fill="#c0c0c0" />
<rect x="25" y="663" width="1" height="14" fill="#c0c0c0" />
<rect x="33" y="667" width="1" height="10" fill="#c0c0c0" />
<rect x="41" y="676" width="1" height="1" fill="#c0c0c0" />
<rect x="49" y="676" width="1" height="16" fill="#c0c0c0" />
<rect x="57" y="676" width="1" height="27" fill="#c0c0c0" />
<rect x="65" y="676" width="1" height="38" fill="#c0c0c0" />
<rect x="73" y="676" width="1" height="48" fill="#c0c0c0" />
<rect x="81" y="676" width="1" height="54" fill="#c0c0c0" />
<rect x="89" y="676" width="1" height="61" fill="#c0c0c0" />
<rect x="97" y="676" width="1" height="56" fill="#c0c0c0" />
<rect x="105" y="676" width="1" height="52" fill="#c0c0c0" />
<rect x="113" y="676" width="1" height="46" fill="#c0c0c0" />
<rect x="121" y="676" width="1" height="46" fill="#c0c0c0" />
<rect x="129" y="676" width="1" height="44" fill="#c0c0c0" />
<rect x="137" y="676" width="1" height="49" fill="#c0c0c0" />
<rect x="145" y="676" width="1" height="55" fill="#c0c0c0" />
<rect x="153" y="676" width="1" height="58" fill="#c0c0c0" />
<rect x="161" y="676" width="1" height="58" fill="#c0c0c0" />
<rect x="169" y="676" width="1" height="55" fill="#c0c0c0" />
<rect x="177" y="676" width="1" height="55" fill="#c0c0c0" />
<rect x="185" y="676" width="1" height="52" fill="#c0c0c0" />
<rect x="193" y="676" width="1" height="52" fill="#c0c0c0" />
<rect x="201" y="676" width="1" height="51" fill="#c0c0c0" />
<rect x="209" y="676" width="1" height="50" fill="#c0c0c0" />
<rect x="217" y="676" width="1" height="47" fill="#c0c0c0" />
<rect x="225" y="676" width="1" height="43" fill="#c0c0c0" />
<rect x="233" y="676" width="1" height="41" fill="#c0c0c0" />
<rect x="241" y="676" width="1" height="32" fill="#c0c0c0" />
<rect x="249" y="676" width="1" height="26" fill="#c0c0c0" />
<rect x="257" y="676" width="1" height="20" fill="#c0c0c0" />
<rect x="265" y="676" width="1" height="15" fill="#c0c0c0" />
<rect x="273" y="676" width="1" height="13" fill="#c0c0c0" />
<rect x="281" y="676" width="1" height="14" fill="#c0c0c0" />
<rect x="289" y="676" width="1" height="24" fill="#c0c0c0" />
<rect x="297" y="676" width="1" height="30" fill="#c0c0c0" />
<rect x="305" y="676" width="1" height="33" fill="#c0c0c0" />
<rect x="313" y="676" width="1" height="37" fill="#c0c0c0" />
<rect x="321" y="676" width="1" height="41" fill="#c0c0c0" />
<rect x="329" y="676" width="1" height="43" fill="#c0c0c0" />
<rect x="337" y="676" width="1" height="43" fill="#c0c0c0" />
<rect x="345" y="676" width="1" height="42" fill="#c0c0c0" />
<rect x="353" y="676" width="1" height="40" fill="#c0c0c0" />
<rect x="361" y="676" width="1" height="37" fill="#c0c0c0" />
<rect x="369" y="676" width="1" height="37" fill="#c0c0c0" />
<rect x="377" y="676" width="1" height="33" fill="#c0c0c0" />
<rect x="385" y="676" width="1" height="31" fill="#c0c0c0" />
<rect x="393" y="676" width="1" height="29" fill="#c0c0c0" />
<rect x="401" y="676" width="1" height="27" fill="#c0c0c0" />
<rect x="409" y="676" width="1" height="25" fill="#c0c0c0" />
<rect x="417" y="676" width="1" height="22" fill="#c0c0c0" />
<rect x="425" y="676" width="1" height="21" fill="#c0c0c0" />
<rect x="433" y="676" width="1" height="6" fill="#c0c0c0" />
<rect x="441" y="673" width="1" height="4" fill="#c0c0c0" />
<rect x="449" y="664" width="1" height="13" fill="#c0c0c0" />
<rect x="457" y="658" width="1" height="19" fill="#c0c0c0" />
<rect x="465" y="654" width="1" height="23" fill="#c0c0c0" />
<rect x="473" y="667" width="1" height="10" fill="#c0c0c0" />
<rect x="481" y="676" width="1" height="1" fill="#c0c0c0" />
<rect x="489" y="676" width="1" height="4" fill="#c0c0c0" />
<rect x="497" y="676" width="1" height="9" fill="#c0c0c0" />
<rect x="505" y="676" width="1" height="15" fill="#c0c0c0" />
<rect x="513" y="676" width="1" height="18" fill="#c0c0c0" />
<rect x="521" y="676" width="1" height="25" fill="#c0c0c0" />
<rect x="529" y="676" width="1" height="27" fill="#c0c0c0" />
<rect x="537" y="676" width="1" height="32" fill="#c0c0c0" />
<rect x="545" y="676" width="1" height="36" fill="#c0c0c0" />
<rect x="553" y="676" width="1" height="39" fill="#c0c0c0" />
<rect x="561" y="676" width="1" height="42" fill="#c0c0c0" />
<rect x="569" y="676" width="1" height="45" fill="#c0c0c0" />
<rect x="577" y="676" width="1" height="48" fill="#c0c0c0" />
<rect x="585" y="676" width="1" height="50" fill="#c0c0c0" />
<rect x="593" y="676" width="1" height="49" fill="#c0c0c0" />
<rect x="601" y="676" width="1" height="48" fill="#c0c0c0" />
<rect x="609" y="676" width="1" height="46" fill="#c0c0c0" />
<rect x="617" y="676" width="1" height="49" fill="#c0c0c0" />
<rect x="625" y="676" width="1" height="50" fill="#c0c0c0" />
<rect x="633" y="676" width="1" height="52" fill="#c0c0c0" />
<rect x="641" y="676" width="1" height="49" fill="#c0c0c0" />
<rect x="649" y="676" width="1" height="48" fill="#c0c0c0" />
<rect x="657" y="676" width="1" height="43" fill="#c0c0c0" />
<rect x="665" y="676" width="1" height="39" fill="#c0c0c0" />
<rect x="673" y="676" width="1" height="44" fill="#c0c0c0" />
<rect x="681" y="676" width="1" height="46" fill="#c0c0c0" />
<rect x="689" y="676" width="1" height="47" fill="#c0c0c0" />
<rect x="697" y="676" width="1" height="49" fill="#c0c0c0" />
<rect x="705" y="676" width="1" height="54" fill="#c0c0c0" />
<rect x="713" y="676" width="1" height="58" fill="#c0c0c0" />
<rect x="721" y="676" width="1" height="57" fill="#c0c0c0" />
<rect x="729" y="676" width="1" height="54" fill="#c0c0c0" />
<rect x="737" y="676" width="1" height="48" fill="#c0c0c0" />
<rect x="745" y="676" width="1" height="45" fill="#c0c0c0" />
<rect x="753" y="676" width="1" height="39" fill="#c0c0c0" />
<rect x="761" y="676" width="1" height="33" fill="#c0c0c0" />
<rect x="769" y="676" width="1" height="26" fill="#c0c0c0" />
<rect x="777" y="676" width="1" height="21" fill="#c0c0c0" />
<rect x="785" y="676" width="1" height="20" fill="#c0c0c0" />
<rect x="793" y="676" width="1" height="17" fill="#c0c0c0" />
<rect x="801" y="676" width="1" height="15" fill="#c0c0c0" />
<rect x="809" y="676" width="1" height="11" fill="#c0c0c0" />
<rect x="817" y="676" width="1" height="8" fill="#c0c0c0" />
<rect x="825" y="676" width="1" height="5" fill="#c0c0c0" />
<rect x="833" y="676" width="1" height="3" fill="#c0c0c0" />
<rect x="841" y="675" width="1" height="2" fill="#c0c0c0" />
<rect x="849" y="670" width="1" height="7" fill="#c0c0c0" />
<rect x="857" y="667" width="1" height="10" fill="#c0c0c0" />
<rect x="865" y="663" width="1" height="14" fill="#c0c0c0" />
<rect x="873" y="659" width="1" height="18" fill="#c0c0c0" />
<rect x="881" y="658" width="1" height="19" fill="#c0c0c0" />
<rect x="889" y="657" width="1" height="20" fill="#c0c0c0" />
<rect x="897" y="659" width="1" height="18" fill="#c0c0c0" />
<rect x="905" y="669" width="1" height="8" fill="#c0c0c0" />
<rect x="913" y="676" width="1" height="4" fill="#c0c0c0" />
<rect x="921" y="676" width="1" height="17" fill="#c0c0c0" />
<rect x="929" y="676" width="1" height="24" fill="#c0c0c0" />
<rect x="937" y="676" width="1" height="33" fill="#c0c0c0" />
<rect x="945" y="676" width="1" height="40" fill="#c0c0c0" />
<rect x="953" y="676" width="1" height="44" fill="#c0c0c0" />
<rect x="961" y="676" width="1" height="47" fill="#c0c0c0" />
<rect x="969" y="676" width="1" height="48" fill="#c0c0c0" />
<rect x="977" y="676" width="1" height="48" fill="#c0c0c0" />
<rect x="985" y="676" width="1" height="45" fill="#c0c0c0" />
<rect x="993" y="676" width="1" height="42" fill="#c0c0c0" />
<rect x="1001" y="676" width="1" height="47" fill="#c0c0c0" />
<rect x="1009" y="676" width="1" height="47" fill="#c0c0c0" />
<rect x="1017" y="676" width="1" height="42" fill="#c0c0c0" />
<rect x="1025" y="676" width="1" height="39" fill="#c0c0c0" />
<rect x="1033" y="676" width="1" height="35" fill="#c0c0c0" />
<rect x="1041" y="676" width="1" height="31" fill="#c0c0c0" />
<rect x="1049" y="676" width="1" height="22" fill="#c0c0c0" />
<rect x="1057" y="676" width="1" height="15" fill="#c0c0c0" />
<rect x="1065" y="676" width="1" height="11" fill="#c0c0c0" />
<rect x="1073" y="676" width="1" height="8" fill="#c0c0c0" />
<rect x="1081" y="676" width="1" height="8" fill="#c0c0c0" />
<rect x="1089" y="676" width="1" height="7" fill="#c0c0c0" />
<rect x="1097" y="676" width="1" height="7" fill="#c0c0c0" />
<rect x="1105" y="676" width="1" height="1" fill="#c0c0c0" />
<rect x="1113" y="674" width="1" height="3" fill="#c0c0c0" />
<rect x="1121" y="669" width="1" height="8" fill="#c0c0c0" />
<rect x="1129" y="667" width="1" height="10" fill="#c0c0c0" />
<rect x="1137" y="668" width="1" height="9" fill="#c0c0c0" />
<rect x="1145" y="667" width="1" height="10" fill="#c0c0c0" />
<rect x="1153" y="663" width="1" height="14" fill="#c0c0c0" />
<rect x="1161" y="661" width="1" height="16" fill="#c0c0c0" />
<rect x="1169" y="659" width="1" height="18" fill="#c0c0c0" />
<rect x="1177" y="656" width="1" height="21" fill="#c0c0c0" />
<rect x="1185" y="652" width="1" height="25" fill="#c0c0c0" />
<rect x="1193" y="646" width="1" height="31" fill="#c0c0c0" />
<rect x="1201" y="641" width="1" height="36" fill="#c0c0c0" />
<rect x="1209" y="637" width="1" height="40" fill="#c0c0c0" />
<rect x="1217" y="636" width="1" height="41" fill="#c0c0c0" />
<rect x="1225" y="634" width="1" height="43" fill="#c0c0c0" />
<rect x="1233" y="634" width="1" height="43" fill="#c0c0c0" />
<rect x="1241" y="628" width="1" height="49" fill="#c0c0c0" />
<rect x="1249" y="621" width="1" height="56" fill="#c0c0c0" />
<rect x="1257" y="616" width="1" height="61" fill="#c0c0c0" />
<rect x="1265" y="612" width="1" height="65" fill="#c0c0c0" />
<rect x="1273" y="608" width="1" height="69" fill="#c0c0c0" />
<rect x="1281" y="606" width="1" height="71" fill="#c0c0c0" />
<rect x="1289" y="606" width="1" height="71" fill="#c0c0c0" />
<rect x="1297" y="607" width="1" height="70" fill="#c0c0c0" />
<rect x="1305" y="608" width="1" height="69" fill="#c0c0c0" />
<rect x="1313" y="612" width="1" height="65" fill="#c0c0c0" />
<rect x="1321" y="617" width="1" height="60" fill="#c0c0c0" />
<rect x="1329" y="622" width="1" height="55" fill="#c0c0c0" />
<rect x="1337" y="626" width="1" height="51" fill="#c0c0c0" />
<rect x="1345" y="630" width="1" height="47" fill="#c0c0c0" />
<rect x="1353" y="635" width="1" height="42" fill="#c0c0c0" />
<rect x="1361" y="639" width="1" height="38" fill="#c0c0c0" />
<rect x="1369" y="642" width="1" height="35" fill="#c0c0c0" />
<rect x="1377" y="640" width="1" height="37" fill="#c0c0c0" />
<rect x="1385" y="650" width="1" height="27" fill="#c0c0c0" />
<rect x="1393" y="655" width="1" height="22" fill="#c0c0c0" />
<rect x="1401" y="660" width="1" height="17" fill="#c0c0c0" />
<rect x="1409" y="664" width="1" height="13" fill="#c0c0c0" />
<polyline points="0.5,642.7 13.1,641.9 19.4,642.7 24.2,644.2 36.8,649.3 47.8,656.1 63.6,672.6 79.4,691.6 95.1,707.3 110.9,720.0 122.0,724.7 134.6,727.0 150.3,728.6 174.0,729.1 197.7,730.2 208.7,731.8 221.3,729.1 230.8,727.8 242.8,723.9 255.4,719.2 260.2,716.0 268.0,711.7 279.1,706.5 290.1,701.8 302.7,699.9 315.4,701.0 321.7,701.8 328.0,704.5 337.5,707.0 346.9,711.7 356.4,714.1 370.6,716.0 380.0,715.5 394.2,714.0 406.8,710.5 417.9,707.6 428.9,704.2 441.5,698.7 454.2,690.3 465.2,682.9 476.2,676.6 482.0,673.9 489.9,671.8 502.5,671.1 507.2,671.8 513.5,675.0 519.8,677.4 530.9,684.5 541.9,693.1 551.4,698.7 562.4,703.4 573.4,708.9 586.1,714.9 597.1,719.2 609.7,721.8 622.3,724.4 638.1,726.3 646.0,727.0 653.9,725.9 669.7,724.4 693.3,723.9 716.4,725.0 729.0,727.0 735.3,727.8 754.2,727.8 760.5,725.9 771.6,722.3 782.6,716.5 795.3,710.2 806.3,703.9 818.9,697.6 831.5,691.9 842.6,687.6 855.2,682.9 866.2,677.4 878.8,671.8 889.9,667.6 897.8,664.4 913.5,664.0 921.4,666.3 932.5,672.6 940.4,677.4 948.2,683.7 952.4,687.6 960.3,696.3 969.7,704.5 976.0,708.9 987.1,714.9 996.5,719.2 1007.6,721.8 1017.1,723.1 1028.1,721.5 1039.1,719.2 1048.6,716.5 1058.1,711.3 1070.7,706.5 1080.1,699.4 1092.8,693.9 1102.2,690.8 1113.3,684.9 1124.3,680.5 1136.9,676.6 1149.5,673.9 1162.2,669.2 1173.2,666.0 1184.0,662.5 1196.3,658.1 1208.9,653.4 1221.5,648.2 1234.1,643.5 1243.6,639.2 1256.2,632.4 1268.8,626.9 1281.4,621.4 1294.1,616.2 1303.5,612.7 1313.0,611.4 1322.5,609.9 1331.9,610.8 1341.4,613.0 1350.8,617.1 1363.5,622.2 1376.1,627.7 1385.5,633.2 1395.0,637.9 1408.4,644.2" fill="none" stroke="#ff0000" stroke-width="1" stroke-dasharray="3,2" shape-rendering="crispEdges"/>
</g>
<text class="k" x="-1" y="609.5" font-size="9.6" fill="#000" text-anchor="start" textLength="120.5" lengthAdjust="spacingAndGlyphs">MACD(12,26,9) 71.83 172.02</text>
<rect x="1653" y="599" width="2" height="1" fill="#000" />
<text class="k" x="1656" y="608" font-size="9.6" fill="#000" text-anchor="start" >417.79</text>
<rect x="1653" y="676" width="2" height="1" fill="#000" />
<text class="k" x="1656" y="679.5" font-size="9.6" fill="#000" text-anchor="start" >0.00</text>
<rect x="1653" y="743" width="1" height="1" fill="#000" />
<text class="k" x="1656" y="740.5" font-size="9.6" fill="#000" text-anchor="start" >-363.32</text>
<line x1="0" y1="782.5" x2="1652" y2="782.5" stroke="#c0c0c0" stroke-dasharray="3,3"/>
<line x1="0" y1="833.5" x2="1652" y2="833.5" stroke="#c0c0c0" stroke-dasharray="3,3"/>
<line x1="0" y1="894.5" x2="1652" y2="894.5" stroke="#c0c0c0" stroke-dasharray="3,3"/>
<g clip-path="url(#cr)">
<polyline points="0.0,833.5 1.5,838.9 9.5,842.6 17.5,845.8 25.5,838.9 33.5,842.6 41.5,863.1 49.5,873.4 57.5,875.3 65.5,878.6 73.5,880.5 81.5,876.8 89.5,879.9 97.5,844.5 105.5,846.9 113.5,842.6 121.5,849.5 129.5,848.8 137.5,862.6 145.5,867.4 153.5,860.7 161.5,854.4 169.5,851.0 177.5,854.7 185.5,851.9 193.5,857.9 201.5,853.8 209.5,854.4 217.5,843.9 225.5,843.9 233.5,848.2 241.5,828.1 249.5,833.8 257.5,828.8 265.5,828.8 273.5,835.6 281.5,843.4 289.5,860.8 297.5,858.9 305.5,854.4 313.5,856.9 321.5,858.9 329.5,858.9 337.5,850.9 345.5,852.9 353.5,846.9 361.5,846.9 369.5,851.8 377.5,838.9 385.5,844.9 393.5,842.8 401.5,844.9 409.5,841.6 417.5,837.9 425.5,844.6 433.5,807.1 441.5,809.8 449.5,808.9 457.5,812.8 465.5,816.4 473.5,851.4 481.5,847.6 489.5,847.6 497.5,847.6 505.5,851.8 513.5,852.9 521.5,857.8 529.5,847.9 537.5,856.6 545.5,857.8 553.5,857.8 561.5,860.8 569.5,862.6 577.5,867.9 585.5,860.4 593.5,858.9 601.5,856.9 609.5,854.8 617.5,866.8 625.5,862.9 633.5,863.8 641.5,856.9 649.5,856.9 657.5,840.9 665.5,843.9 673.5,865.6 681.5,859.9 689.5,860.8 697.5,864.1 705.5,870.1 713.5,872.8 721.5,857.4 729.5,853.9 737.5,843.9 745.5,846.1 753.5,839.4 761.5,832.9 769.5,832.9 777.5,827.8 785.5,842.4 793.5,839.4 801.5,834.4 809.5,829.9 817.5,829.9 825.5,829.9 833.5,826.6 841.5,820.3 849.5,812.8 857.5,822.1 865.5,812.8 873.5,812.8 881.5,818.8 889.5,820.3 897.5,827.3 905.5,854.8 913.5,865.6 921.5,869.8 929.5,858.9 937.5,865.9 945.5,866.6 953.5,862.9 961.5,864.9 969.5,860.4 977.5,855.9 985.5,850.3 993.5,847.6 1001.5,865.6 1009.5,853.6 1017.5,841.9 1025.5,843.9 1033.5,839.8 1041.5,837.9 1049.5,823.9 1057.5,825.1 1065.5,829.9 1073.5,831.4 1081.5,836.8 1089.5,834.8 1097.5,837.9 1105.5,823.3 1113.5,819.4 1121.5,817.9 1129.5,823.3 1137.5,832.9 1145.5,824.3 1153.5,819.1 1161.5,820.9 1169.5,818.8 1177.5,813.8 1185.5,810.9 1193.5,802.1 1201.5,800.0 1209.5,801.8 1217.5,805.6 1225.5,804.1 1233.5,804.1 1241.5,791.9 1249.5,786.2 1257.5,784.7 1265.5,784.7 1273.5,780.7 1281.5,789.9 1289.5,790.8 1297.5,789.9 1305.5,793.9 1313.5,800.0 1321.5,812.8 1329.5,817.9 1337.5,811.8 1345.5,820.9 1353.5,813.3 1361.5,812.8 1369.5,814.8 1377.5,814.8 1385.5,848.9 1393.5,838.2 1401.5,837.8 1409.5,837.8" fill="none" stroke="#1e90ff" stroke-width="1" shape-rendering="crispEdges"/>
</g>
<text class="k" x="-1" y="758.3" font-size="9.6" fill="#000" text-anchor="start" textLength="65" lengthAdjust="spacingAndGlyphs">RSI(14) 47.6968</text>
<text class="k" x="1656" y="757.5" font-size="9.6" fill="#000" text-anchor="start" >100</text>
<text class="k" x="1656" y="786" font-size="9.6" fill="#000" text-anchor="start" >80</text>
<text class="k" x="1656" y="837" font-size="9.6" fill="#000" text-anchor="start" >50</text>
<text class="k" x="1656" y="897.5" font-size="9.6" fill="#000" text-anchor="start" >15</text>
<text class="k" x="1656" y="917" font-size="9.6" fill="#000" text-anchor="start" >0</text>
<rect x="1653" y="748" width="2" height="1" fill="#000" />
<rect x="1653" y="919" width="2" height="1" fill="#000" />
<rect x="57" y="921" width="1" height="3" fill="#000" />
<text class="k" x="56" y="932.8" font-size="9" fill="#000" text-anchor="start" letter-spacing="0.25">24 Apr 23:00</text>
<rect x="121" y="921" width="1" height="3" fill="#000" />
<text class="k" x="120" y="932.8" font-size="9" fill="#000" text-anchor="start" letter-spacing="0.25">26 Apr 04:00</text>
<rect x="185" y="921" width="1" height="3" fill="#000" />
<text class="k" x="184" y="932.8" font-size="9" fill="#000" text-anchor="start" letter-spacing="0.25">27 Apr 12:00</text>
<rect x="249" y="921" width="1" height="3" fill="#000" />
<text class="k" x="248" y="932.8" font-size="9" fill="#000" text-anchor="start" letter-spacing="0.25">28 Apr 20:00</text>
<rect x="313" y="921" width="1" height="3" fill="#000" />
<text class="k" x="312" y="932.8" font-size="9" fill="#000" text-anchor="start" letter-spacing="0.25">2 May 04:00</text>
<rect x="377" y="921" width="1" height="3" fill="#000" />
<text class="k" x="376" y="932.8" font-size="9" fill="#000" text-anchor="start" letter-spacing="0.25">3 May 12:00</text>
<rect x="441" y="921" width="1" height="3" fill="#000" />
<text class="k" x="440" y="932.8" font-size="9" fill="#000" text-anchor="start" letter-spacing="0.25">4 May 20:00</text>
<rect x="505" y="921" width="1" height="3" fill="#000" />
<text class="k" x="504" y="932.8" font-size="9" fill="#000" text-anchor="start" letter-spacing="0.25">6 May 04:00</text>
<rect x="569" y="921" width="1" height="3" fill="#000" />
<text class="k" x="568" y="932.8" font-size="9" fill="#000" text-anchor="start" letter-spacing="0.25">9 May 12:00</text>
<rect x="633" y="921" width="1" height="3" fill="#000" />
<text class="k" x="632" y="932.8" font-size="9" fill="#000" text-anchor="start" letter-spacing="0.25">10 May 20:00</text>
<rect x="697" y="921" width="1" height="3" fill="#000" />
<text class="k" x="696" y="932.8" font-size="9" fill="#000" text-anchor="start" letter-spacing="0.25">12 May 04:00</text>
<rect x="761" y="921" width="1" height="3" fill="#000" />
<text class="k" x="760" y="932.8" font-size="9" fill="#000" text-anchor="start" letter-spacing="0.25">13 May 12:00</text>
<rect x="825" y="921" width="1" height="3" fill="#000" />
<text class="k" x="824" y="932.8" font-size="9" fill="#000" text-anchor="start" letter-spacing="0.25">16 May 20:00</text>
<rect x="889" y="921" width="1" height="3" fill="#000" />
<text class="k" x="888" y="932.8" font-size="9" fill="#000" text-anchor="start" letter-spacing="0.25">18 May 04:00</text>
<rect x="953" y="921" width="1" height="3" fill="#000" />
<text class="k" x="952" y="932.8" font-size="9" fill="#000" text-anchor="start" letter-spacing="0.25">19 May 12:00</text>
<rect x="1017" y="921" width="1" height="3" fill="#000" />
<text class="k" x="1016" y="932.8" font-size="9" fill="#000" text-anchor="start" letter-spacing="0.25">22 May 23:00</text>
<rect x="1081" y="921" width="1" height="3" fill="#000" />
<text class="k" x="1080" y="932.8" font-size="9" fill="#000" text-anchor="start" letter-spacing="0.25">24 May 04:00</text>
<rect x="1145" y="921" width="1" height="3" fill="#000" />
<text class="k" x="1144" y="932.8" font-size="9" fill="#000" text-anchor="start" letter-spacing="0.25">25 May 12:00</text>
<rect x="1209" y="921" width="1" height="3" fill="#000" />
<text class="k" x="1208" y="932.8" font-size="9" fill="#000" text-anchor="start" letter-spacing="0.25">26 May 20:00</text>
<rect x="1273" y="921" width="1" height="3" fill="#000" />
<text class="k" x="1272" y="932.8" font-size="9" fill="#000" text-anchor="start" letter-spacing="0.25">30 May 04:00</text>
<rect x="1337" y="921" width="1" height="3" fill="#000" />
<text class="k" x="1336" y="932.8" font-size="9" fill="#000" text-anchor="start" letter-spacing="0.25">31 May 12:00</text>
<rect x="1401" y="921" width="1" height="3" fill="#000" />
<text class="k" x="1400" y="932.8" font-size="9" fill="#000" text-anchor="start" letter-spacing="0.25">1 Jun 20:00</text>
<text class="k" x="6" y="932.8" font-size="9" fill="#000" text-anchor="start" letter-spacing="0.25">Apr 2022</text>
<rect x="0" y="926" width="1" height="6" fill="#9cd4ff" />
<rect x="0" y="27" width="1" height="1" fill="#000" />
<rect x="0" y="28" width="2" height="1" fill="#000" />
<rect x="0" y="29" width="3" height="1" fill="#000" />
<text class="k" x="8.5" y="31" font-size="9.6" fill="#000" text-anchor="start" textLength="38" lengthAdjust="spacingAndGlyphs">DJ30-,H4</text>
<text class="k" x="53.7" y="31" font-size="9.6" fill="#000" text-anchor="start" textLength="32.2" lengthAdjust="spacingAndGlyphs">32771.5</text>
<text class="k" x="89.3" y="31" font-size="9.6" fill="#000" text-anchor="start" textLength="32.2" lengthAdjust="spacingAndGlyphs">32771.5</text>
<text class="k" x="124.9" y="31" font-size="9.6" fill="#000" text-anchor="start" textLength="32.2" lengthAdjust="spacingAndGlyphs">32771.5</text>
<text class="k" x="160.5" y="31" font-size="9.6" fill="#000" text-anchor="start" textLength="32.2" lengthAdjust="spacingAndGlyphs">32771.5</text>
<rect x="1698" y="16" width="1" height="916" fill="#d4d4d4" />
<circle cx="-1" cy="2" r="4" fill="#cfe3f5" stroke="#6a9cd0" stroke-width="1" shape-rendering="auto"/>
<line x1="1.5" y1="7.5" x2="5" y2="11.5" stroke="#c8a030" stroke-width="2.2" shape-rendering="auto"/>
<polygon points="1.5,2 4,3.5 1.5,5" fill="#000"/>
<rect x="13" y="0" width="1" height="13" fill="#a0a0a0"/>
<rect x="23.5" y="-2.5" width="10" height="11" fill="#fff" stroke="#8c8c8c" stroke-width="1"/>
<rect x="25" y="1" width="6" height="1" fill="#909090"/><rect x="25" y="3" width="6" height="1" fill="#909090"/><rect x="25" y="5" width="4" height="1" fill="#909090"/>
<path d="M31,1.5h4v4h3.5v3.5h-3.5v3.5h-4v-3.5h-3.5v-3.5h3.5z" fill="#22dd33" stroke="#0a9a1a" stroke-width="0.8" shape-rendering="auto"/>
<text x="42" y="5.8" font-size="12.5" fill="#000" stroke="#000" stroke-width="0.3" font-family="Noto Sans CJK SC, sans-serif">新订单</text>
<polygon points="90,5 99,-2 106,3 97,10" fill="#e0b030" stroke="#a87818" stroke-width="0.8" shape-rendering="auto"/>
<polygon points="90,5 97,10 97,12 90,7" fill="#b08020" shape-rendering="auto"/>
<polygon points="97,10 106,3 106,5 97,12" fill="#c89428" shape-rendering="auto"/>
<polygon points="92,4.5 99,-0.5 104,3 97,8" fill="#f4d060" shape-rendering="auto"/>
<rect x="120.5" y="-1.5" width="11" height="6" fill="#3a80e0" stroke="#2060c0" stroke-width="1"/>
<rect x="122" y="0" width="3" height="3" fill="#e8f4ff"/><rect x="127" y="0" width="3" height="3" fill="#e8f4ff"/>
<path d="M118.5,10 a2.8,2.8 0 0 1 2.5,-4.5 a4.2,4.2 0 0 1 7.5,-1.2 a3,3 0 0 1 5,2.5 a2,2 0 0 1 0,3.2 z" fill="#f6f9ff" stroke="#8098c0" stroke-width="1" shape-rendering="auto"/>
<path d="M151,9.5 A7,7 0 0 1 148.5,-2" fill="none" stroke="#4a78d8" stroke-width="1" shape-rendering="auto"/>
<path d="M151.8,7 A4.5,4.5 0 0 1 150.5,-0.5" fill="none" stroke="#4a78d8" stroke-width="1" shape-rendering="auto"/>
<path d="M154,10.5 A7.5,7.5 0 0 0 161.5,3 L154,3 Z" fill="#bfe0bf" shape-rendering="auto"/>
<path d="M154,10.5 A7.5,7.5 0 0 0 161.5,3" fill="none" stroke="#48a848" stroke-width="1.2" shape-rendering="auto"/>
<rect x="153.5" y="3" width="1.3" height="8" fill="#20a020"/>
<circle cx="154" cy="2.5" r="1.6" fill="#2050c0" shape-rendering="auto"/>
<path d="M173,2 L185,-1 L188,6 L180,10 Z" fill="#f0d050" stroke="#b09020" stroke-width="0.8" shape-rendering="auto"/>
<path d="M174,0 L186,-2 L186,2 L175,3 Z" fill="#60a0e0" shape-rendering="auto"/>
<circle cx="185.5" cy="6.5" r="3.8" fill="#d02020" shape-rendering="auto"/>
<rect x="184.5" y="5.5" width="2.2" height="2.2" fill="#fff"/>
<text x="194" y="5.8" font-size="12.5" fill="#000" stroke="#000" stroke-width="0.3" font-family="Noto Sans CJK SC, sans-serif">自动交易</text>
<rect x="249" y="0" width="1" height="13" fill="#909090"/>
<rect x="253" y="1" width="3" height="1" fill="#b4b4b4"/>
<rect x="253" y="3" width="3" height="1" fill="#b4b4b4"/>
<rect x="253" y="5" width="3" height="1" fill="#b4b4b4"/>
<rect x="253" y="7" width="3" height="1" fill="#b4b4b4"/>
<rect x="253" y="9" width="3" height="1" fill="#b4b4b4"/>
<rect x="253" y="11" width="3" height="1" fill="#b4b4b4"/>
<rect x="267" y="0" width="1" height="11" fill="#505050"/>
<rect x="265" y="8" width="13" height="1" fill="#505050"/>
<polygon points="278,6.5 280,8.5 278,10.5" fill="#505050"/>
<rect x="273" y="0" width="1" height="4" fill="#1a9a1a"/><rect x="272" y="4" width="1" height="1" fill="#1a9a1a"/>
<rect x="286" y="0" width="1" height="13" fill="#b0b0b0"/>
<rect x="288" y="0" width="24" height="13" fill="#f6f6f6"/>
<rect x="294" y="0" width="1" height="11" fill="#505050"/>
<rect x="292" y="8" width="13" height="1" fill="#505050"/>
<polygon points="305,6.5 307,8.5 305,10.5" fill="#505050"/>
<rect x="298" y="-1" width="4" height="5" fill="#22cc22" stroke="#108010" stroke-width="0.6"/><rect x="300" y="4" width="1" height="2" fill="#108010"/>
<rect x="322" y="0" width="1" height="11" fill="#505050"/>
<rect x="320" y="8" width="13" height="1" fill="#505050"/>
<polygon points="333,6.5 335,8.5 333,10.5" fill="#505050"/>
<polyline points="322,6 327,0 333,4" fill="none" stroke="#1a9a1a" stroke-width="1.2" shape-rendering="auto"/>
<rect x="344" y="0" width="1" height="13" fill="#a0a0a0"/>
<circle cx="359" cy="1" r="5" fill="#cde4f8" stroke="#4a88d0" stroke-width="1.3" shape-rendering="auto"/>
<line x1="362.5" y1="4.5" x2="368" y2="10" stroke="#d0b030" stroke-width="2.4" shape-rendering="auto"/>
<circle cx="387" cy="1" r="5" fill="#cde4f8" stroke="#4a88d0" stroke-width="1.3" shape-rendering="auto"/>
<line x1="390.5" y1="4.5" x2="396" y2="10" stroke="#d0b030" stroke-width="2.4" shape-rendering="auto"/>
<rect x="357" y="-2" width="4" height="3" fill="#4a88d0"/>
<rect x="385" y="-2" width="4" height="2" fill="#4a88d0"/>
<rect x="409" y="-2" width="7" height="4" fill="#30a030"/><rect x="417" y="-2" width="7" height="4" fill="#3060d0"/>
<rect x="409" y="3" width="7" height="7" fill="#3060d0"/><rect x="417" y="3" width="7" height="7" fill="#30a030"/>
<rect x="410" y="6" width="5" height="3" fill="#e8f0ff"/><rect x="418" y="6" width="5" height="3" fill="#e8ffe8"/>
<rect x="434" y="0" width="1" height="13" fill="#a0a0a0"/>
<rect x="439" y="0" width="1" height="13" fill="#a0a0a0"/>
<rect x="440" y="0" width="25" height="13" fill="#f6f6f6"/>
<rect x="446" y="0" width="1" height="11" fill="#505050"/>
<rect x="444" y="8" width="13" height="1" fill="#505050"/>
<polygon points="457,6.5 459,8.5 457,10.5" fill="#505050"/>
<polygon points="452,-1 456,2.5 452,6" fill="#20b020"/>
<rect x="467" y="0" width="1" height="13" fill="#a0a0a0"/>
<rect x="468" y="0" width="20" height="13" fill="#f6f6f6"/>
<rect x="474" y="0" width="1" height="11" fill="#505050"/>
<rect x="472" y="8" width="13" height="1" fill="#505050"/>
<polygon points="485,6.5 487,8.5 485,10.5" fill="#505050"/>
<rect x="481" y="-1" width="1" height="7" fill="#2060c0"/><polygon points="483,2 487,0 487,4" fill="#e04010"/>
<rect x="496" y="0" width="1" height="13" fill="#a0a0a0"/>
<rect x="506.5" y="-2.5" width="9" height="10" fill="#fff" stroke="#8c8c8c" stroke-width="1"/>
<path d="M511,1.5h4v4h3.5v3.5h-3.5v3.5h-4v-3.5h-3.5v-3.5h3.5z" fill="#22dd33" stroke="#0a9a1a" stroke-width="0.8" shape-rendering="auto"/>
<polygon points="528,2.5 534,2.5 531,5.5" fill="#000"/>
<circle cx="552" cy="2" r="7" fill="#1a60c8" shape-rendering="auto"/><circle cx="552" cy="2" r="5" fill="#f4f4f4" shape-rendering="auto"/>
<rect x="551.5" y="-2" width="1" height="4" fill="#333"/><rect x="551.5" y="2" width="3" height="1" fill="#333"/>
<polygon points="567,2.5 573,2.5 570,5.5" fill="#000"/>
<rect x="583.5" y="-2.5" width="15" height="12" fill="#fff" stroke="#3a70c8" stroke-width="1"/>
<polyline points="585,1.5 588,0 591,1 595,-1 597,0" fill="none" stroke="#c03010" stroke-width="1"/>
<rect x="584" y="3" width="14" height="1" fill="#3a70c8"/>
<polyline points="585,7 588,5.5 591,6.5 594,5 597,6.5" fill="none" stroke="#20a020" stroke-width="1" shape-rendering="auto"/>
<polygon points="606,2.5 612,2.5 609,5.5" fill="#000"/>
<rect x="617" y="0" width="1" height="13" fill="#909090"/>
<rect x="621" y="1" width="3" height="1" fill="#b4b4b4"/>
<rect x="621" y="3" width="3" height="1" fill="#b4b4b4"/>
<rect x="621" y="5" width="3" height="1" fill="#b4b4b4"/>
<rect x="621" y="7" width="3" height="1" fill="#b4b4b4"/>
<rect x="621" y="9" width="3" height="1" fill="#b4b4b4"/>
<rect x="621" y="11" width="3" height="1" fill="#b4b4b4"/>
<rect x="627" y="0" width="1" height="13" fill="#a0a0a0"/>
<rect x="628" y="0" width="22" height="13" fill="#f6f6f6"/>
<polygon points="635,-1 635,8 637,6 639,10 641,9.5 639,5.5 642,5" fill="#505050" shape-rendering="auto"/>
<rect x="660" y="3" width="15" height="1" fill="#404040"/><rect x="667" y="-1" width="1" height="11" fill="#404040"/>
<rect x="684" y="0" width="1" height="13" fill="#a0a0a0"/>
<rect x="701" y="-1" width="1" height="11" fill="#404040"/>
<rect x="724" y="3" width="12" height="1" fill="#404040"/>
<line x1="752" y1="10" x2="762" y2="0" stroke="#404040" stroke-width="1.1" shape-rendering="auto"/>
<path d="M778,9 L788,-1 M781,9 L791,-1 M779,5 L786,-1" fill="none" stroke="#404040" stroke-width="0.9" shape-rendering="auto"/>
<text x="788.5" y="12" font-size="6.5" font-weight="bold" fill="#404040">E</text>
<line x1="807" y1="3.5" x2="820" y2="3.5" stroke="#404040" stroke-dasharray="1,1"/>
<line x1="807" y1="7.5" x2="816" y2="7.5" stroke="#404040" stroke-dasharray="1,1"/>
<text x="816.5" y="12" font-size="6.5" font-weight="bold" fill="#404040">F</text>
<text x="837.5" y="8" font-size="11" font-weight="bold" fill="#505050">A</text>
<rect x="864.5" y="-1.5" width="11" height="11" fill="none" stroke="#505050" stroke-dasharray="1,1"/>
<text x="866.5" y="8" font-size="11" font-weight="bold" fill="#404040">T</text>
<path d="M892,1 L895,4 L899,0" fill="none" stroke="#404040" stroke-width="1.4" shape-rendering="auto"/>
<polygon points="898,6 901.5,3.5 905,6 901.5,9.5" fill="#404040" shape-rendering="auto"/>
<path d="M893,-1 L897,-1" stroke="#404040" stroke-width="1.4"/>
<polygon points="912,2.5 918,2.5 915,5.5" fill="#000"/>
<rect x="923" y="0" width="1" height="13" fill="#909090"/>
<rect x="927" y="1" width="3" height="1" fill="#b4b4b4"/>
<rect x="927" y="3" width="3" height="1" fill="#b4b4b4"/>
<rect x="927" y="5" width="3" height="1" fill="#b4b4b4"/>
<rect x="927" y="7" width="3" height="1" fill="#b4b4b4"/>
<rect x="927" y="9" width="3" height="1" fill="#b4b4b4"/>
<rect x="927" y="11" width="3" height="1" fill="#b4b4b4"/>
<text x="938.5" y="7" font-size="11" fill="#303030">M1</text>
<text x="966.5" y="7" font-size="11" fill="#303030">M5</text>
<text x="992.5" y="7" font-size="11" fill="#303030">M15</text>
<text x="1020.5" y="7" font-size="11" fill="#303030">M30</text>
<text x="1051.5" y="7" font-size="11" fill="#303030">H1</text>
<rect x="1073" y="0" width="1" height="13" fill="#a0a0a0"/>
<rect x="1074" y="0" width="24" height="13" fill="#f6f6f6"/>
<text x="1078.5" y="7" font-size="11" fill="#303030">H4</text>
<text x="1106.5" y="7" font-size="11" fill="#303030">D1</text>
<text x="1134" y="7" font-size="11" fill="#303030">W1</text>
<text x="1161" y="7" font-size="11" fill="#303030">MN</text>
<rect x="1184" y="0" width="1" height="13" fill="#a0a0a0"/>
<circle cx="1654.5" cy="0.5" r="3.6" fill="#fff" stroke="#2a5ad8" stroke-width="1.3" shape-rendering="auto"/>
<line x1="1651.5" y1="3.5" x2="1647.5" y2="7.5" stroke="#2a5ad8" stroke-width="2.2" shape-rendering="auto"/>
<path d="M1672,7 a7,6 0 0 1 10,-8 l4,8 l-7,4 l-4,1 l0.5,-2 a6,5 0 0 1 -3.5,-3 z" fill="#e8e8ee" stroke="#b0b0b8" stroke-width="0.8" shape-rendering="auto"/>
<circle cx="1685.5" cy="1.5" r="7.8" fill="#e02810" shape-rendering="auto"/>
<text x="1685.5" y="4.5" font-size="9" fill="#fff" text-anchor="middle" font-family="Liberation Serif, serif">1</text>

<defs>
<linearGradient id="gb" x1="0" y1="0" x2="0" y2="1"><stop offset="0" stop-color="#fb5a5a"/><stop offset="0.5" stop-color="#ea3c3c"/><stop offset="1" stop-color="#dc2c2c"/></linearGradient>
<linearGradient id="gp" x1="0" y1="0" x2="0" y2="1"><stop offset="0" stop-color="#e12a2a"/><stop offset="0.5" stop-color="#cc1818"/><stop offset="1" stop-color="#b20202"/></linearGradient>
<linearGradient id="gs" x1="0" y1="0" x2="0" y2="1"><stop offset="0" stop-color="#f2f2f2"/><stop offset="0.45" stop-color="#e6e6e6"/><stop offset="0.55" stop-color="#d2d2d2"/><stop offset="1" stop-color="#d6d6d6"/></linearGradient>
</defs>
<rect x="0" y="37" width="215" height="59" fill="#fff"/>
<rect x="0" y="39" width="48" height="24" fill="#b80808"/>
<rect x="0" y="40" width="47" height="22" fill="url(#gb)"/>
<rect x="0" y="62" width="44" height="1" fill="#8a0000"/>
<rect x="163" y="39" width="52" height="24" fill="#b80808"/>
<rect x="164" y="40" width="50" height="22" fill="url(#gb)"/>
<rect x="167" y="62" width="44" height="1" fill="#8a0000"/>
<rect x="0" y="63" width="105" height="33" fill="#b80808"/>
<rect x="0" y="64" width="104" height="31" fill="url(#gp)"/>
<rect x="107" y="63" width="108" height="33" fill="#b80808"/>
<rect x="108" y="64" width="106" height="31" fill="url(#gp)"/>
<rect x="50.5" y="39.5" width="110" height="21" fill="#fff" stroke="#a4a4ac" stroke-width="1"/>
<rect x="51.5" y="40.5" width="20" height="19" fill="url(#gs)" stroke="#c4c4c8" stroke-width="1"/>
<rect x="139.5" y="40.5" width="20" height="19" fill="url(#gs)" stroke="#c4c4c8" stroke-width="1"/>
<polygon points="58,48 65,48 61.5,52" fill="#4a5ab8" shape-rendering="auto"/>
<polygon points="146,52 153,52 149.5,48" fill="#4a5ab8" shape-rendering="auto"/>
<text x="136" y="55" font-size="12.5" fill="#000" text-anchor="end">1.00</text>
<text x="8.5" y="55.2" font-size="12.3" fill="#fff" textLength="25.6" lengthAdjust="spacingAndGlyphs">SELL</text>
<text x="176.6" y="55.2" font-size="12.3" fill="#fff" textLength="23.3" lengthAdjust="spacingAndGlyphs">BUY</text>
<text x="12.5" y="90.8" font-size="12" font-weight="bold" fill="#fff" textLength="34" lengthAdjust="spacingAndGlyphs">32770</text>
<text x="122.6" y="90.8" font-size="12" font-weight="bold" fill="#fff" textLength="34" lengthAdjust="spacingAndGlyphs">32780</text>
<circle cx="53.3" cy="89" r="2" fill="#fff" shape-rendering="auto"/>
<circle cx="164" cy="89" r="2" fill="#fff" shape-rendering="auto"/>
<text x="57.5" y="90.8" font-size="33" fill="#fff" textLength="16.5" lengthAdjust="spacingAndGlyphs">0</text>
<text x="168.6" y="90.8" font-size="33" fill="#fff" textLength="16.5" lengthAdjust="spacingAndGlyphs">0</text>

</svg>

</body></html>
